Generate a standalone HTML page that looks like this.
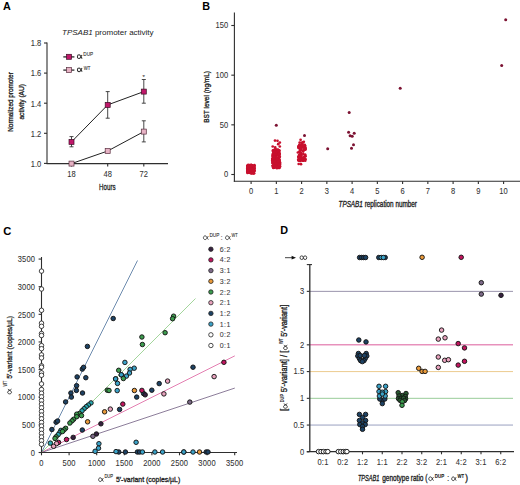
<!DOCTYPE html>
<html><head><meta charset="utf-8"><style>
html,body{margin:0;padding:0;background:#fff;}
svg{display:block;}
text{font-family:"Liberation Sans", sans-serif;}
</style></head><body>
<svg width="520" height="485" viewBox="0 0 520 485">
<rect width="520" height="485" fill="#fff"/>
<text x="2.90" y="9.60" font-size="10.8" text-anchor="start" fill="#000"  font-weight="bold">A</text>
<text x="62" y="35" font-size="8" fill="#222"><tspan font-style="italic">TPSAB1</tspan> promoter activity</text>
<line x1="47.00" y1="42.50" x2="47.00" y2="164.00" stroke="#2e2e2e" stroke-width="1.1" />
<line x1="44.00" y1="43.00" x2="47.00" y2="43.00" stroke="#2e2e2e" stroke-width="1.1" />
<text transform="translate(41.40,46.30) scale(0.92,1)" font-size="8.2" text-anchor="end" fill="#333" stroke="#333" stroke-width="0.07" letter-spacing="0.1">1.8</text>
<line x1="44.00" y1="73.10" x2="47.00" y2="73.10" stroke="#2e2e2e" stroke-width="1.1" />
<text transform="translate(41.40,76.40) scale(0.92,1)" font-size="8.2" text-anchor="end" fill="#333" stroke="#333" stroke-width="0.07" letter-spacing="0.1">1.6</text>
<line x1="44.00" y1="103.20" x2="47.00" y2="103.20" stroke="#2e2e2e" stroke-width="1.1" />
<text transform="translate(41.40,106.50) scale(0.92,1)" font-size="8.2" text-anchor="end" fill="#333" stroke="#333" stroke-width="0.07" letter-spacing="0.1">1.4</text>
<line x1="44.00" y1="133.30" x2="47.00" y2="133.30" stroke="#2e2e2e" stroke-width="1.1" />
<text transform="translate(41.40,136.60) scale(0.92,1)" font-size="8.2" text-anchor="end" fill="#333" stroke="#333" stroke-width="0.07" letter-spacing="0.1">1.2</text>
<line x1="44.00" y1="163.40" x2="47.00" y2="163.40" stroke="#2e2e2e" stroke-width="1.1" />
<text transform="translate(41.40,166.70) scale(0.92,1)" font-size="8.2" text-anchor="end" fill="#333" stroke="#333" stroke-width="0.07" letter-spacing="0.1">1.0</text>
<line x1="46.50" y1="163.60" x2="168.00" y2="163.60" stroke="#2e2e2e" stroke-width="1.1" />
<line x1="71.50" y1="163.60" x2="71.50" y2="166.50" stroke="#2e2e2e" stroke-width="1.1" />
<text transform="translate(71.50,176.70) scale(0.92,1)" font-size="8.2" text-anchor="middle" fill="#333" stroke="#333" stroke-width="0.07" letter-spacing="0.1">18</text>
<line x1="107.70" y1="163.60" x2="107.70" y2="166.50" stroke="#2e2e2e" stroke-width="1.1" />
<text transform="translate(107.70,176.70) scale(0.92,1)" font-size="8.2" text-anchor="middle" fill="#333" stroke="#333" stroke-width="0.07" letter-spacing="0.1">48</text>
<line x1="143.80" y1="163.60" x2="143.80" y2="166.50" stroke="#2e2e2e" stroke-width="1.1" />
<text transform="translate(143.80,176.70) scale(0.92,1)" font-size="8.2" text-anchor="middle" fill="#333" stroke="#333" stroke-width="0.07" letter-spacing="0.1">72</text>
<text x="99.1" y="190" font-size="9.4" fill="#222" stroke="#222" stroke-width="0.32" textLength="16.5" lengthAdjust="spacingAndGlyphs">Hours</text>
<text transform="translate(12.9,102) rotate(-90)" font-size="7.9" text-anchor="middle" fill="#222" stroke="#222" stroke-width="0.32" textLength="59.5" lengthAdjust="spacingAndGlyphs">Normalized promoter</text>
<text transform="translate(24.2,101.8) rotate(-90)" font-size="7.9" text-anchor="middle" fill="#222" stroke="#222" stroke-width="0.32" textLength="35.5" lengthAdjust="spacingAndGlyphs">activity (AU)</text>
<polyline points="71.5,141.9 107.7,104.9 143.8,91.6" fill="none" stroke="#222" stroke-width="1"/>
<line x1="71.50" y1="136.60" x2="71.50" y2="146.80" stroke="#333" stroke-width="0.9" />
<line x1="69.50" y1="136.60" x2="73.50" y2="136.60" stroke="#333" stroke-width="0.9" />
<line x1="69.50" y1="146.80" x2="73.50" y2="146.80" stroke="#333" stroke-width="0.9" />
<line x1="107.70" y1="91.60" x2="107.70" y2="118.20" stroke="#333" stroke-width="0.9" />
<line x1="105.70" y1="91.60" x2="109.70" y2="91.60" stroke="#333" stroke-width="0.9" />
<line x1="105.70" y1="118.20" x2="109.70" y2="118.20" stroke="#333" stroke-width="0.9" />
<line x1="143.80" y1="79.50" x2="143.80" y2="103.20" stroke="#333" stroke-width="0.9" />
<line x1="141.80" y1="79.50" x2="145.80" y2="79.50" stroke="#333" stroke-width="0.9" />
<line x1="141.80" y1="103.20" x2="145.80" y2="103.20" stroke="#333" stroke-width="0.9" />
<polyline points="71.5,163.6 107.7,151.0 143.8,131.6" fill="none" stroke="#222" stroke-width="1"/>
<line x1="143.80" y1="120.80" x2="143.80" y2="141.90" stroke="#333" stroke-width="0.9" />
<line x1="141.80" y1="120.80" x2="145.80" y2="120.80" stroke="#333" stroke-width="0.9" />
<line x1="141.80" y1="141.90" x2="145.80" y2="141.90" stroke="#333" stroke-width="0.9" />
<rect x="69.0" y="139.4" width="5" height="5" fill="#c0186a" stroke="#3c0e26" stroke-width="0.7"/>
<rect x="105.2" y="102.4" width="5" height="5" fill="#c0186a" stroke="#3c0e26" stroke-width="0.7"/>
<rect x="141.3" y="89.1" width="5" height="5" fill="#c0186a" stroke="#3c0e26" stroke-width="0.7"/>
<rect x="69.0" y="161.1" width="5" height="5" fill="#e6b2c4" stroke="#5a3040" stroke-width="0.7"/>
<rect x="105.2" y="148.5" width="5" height="5" fill="#e6b2c4" stroke="#5a3040" stroke-width="0.7"/>
<rect x="141.3" y="129.1" width="5" height="5" fill="#e6b2c4" stroke="#5a3040" stroke-width="0.7"/>
<text x="143.60" y="78.50" font-size="6" text-anchor="middle" fill="#333" stroke="#333" stroke-width="0.07" >*</text>
<line x1="63.30" y1="56.90" x2="74.40" y2="56.90" stroke="#2a2a2a" stroke-width="1.3" />
<rect x="66.5" y="54.3" width="5" height="5" fill="#c0186a" stroke="#3c0e26" stroke-width="0.7"/>
<line x1="63.30" y1="70.10" x2="74.40" y2="70.10" stroke="#2a2a2a" stroke-width="1.3" />
<rect x="66.5" y="67.6" width="5" height="5" fill="#e6b2c4" stroke="#5a3040" stroke-width="0.7"/>
<g transform="translate(77.30,58.60)"><path transform="translate(0,-3.80) scale(0.980,1.000)" d="M4.9,0.3 C3.9,1.3 3.3,3.8 1.9,3.8 C0.7,3.8 0.1,2.9 0.1,1.9 C0.1,0.9 0.8,0 1.9,0 C3.2,0 3.8,2.7 5.0,3.8" fill="none" stroke="#2a2a2a" stroke-width="1.01"/></g>
<text x="83.30" y="56.20" font-size="4.8" fill="#333" stroke="#333" stroke-width="0.1"  textLength="9.8" lengthAdjust="spacingAndGlyphs">DUP</text>
<g transform="translate(77.30,71.70)"><path transform="translate(0,-3.80) scale(0.980,1.000)" d="M4.9,0.3 C3.9,1.3 3.3,3.8 1.9,3.8 C0.7,3.8 0.1,2.9 0.1,1.9 C0.1,0.9 0.8,0 1.9,0 C3.2,0 3.8,2.7 5.0,3.8" fill="none" stroke="#2a2a2a" stroke-width="1.01"/></g>
<text x="83.80" y="69.70" font-size="4.8" fill="#333" stroke="#333" stroke-width="0.1"  textLength="6.6" lengthAdjust="spacingAndGlyphs">WT</text>
<text x="202.30" y="9.60" font-size="10.8" text-anchor="start" fill="#000"  font-weight="bold">B</text>
<line x1="234.40" y1="12.40" x2="234.40" y2="181.80" stroke="#2e2e2e" stroke-width="1.1" />
<line x1="231.30" y1="174.50" x2="234.40" y2="174.50" stroke="#2e2e2e" stroke-width="1.1" />
<text transform="translate(228.30,177.30) scale(0.92,1)" font-size="8.2" text-anchor="end" fill="#333" stroke="#333" stroke-width="0.07" letter-spacing="0.1">0</text>
<line x1="231.30" y1="124.84" x2="234.40" y2="124.84" stroke="#2e2e2e" stroke-width="1.1" />
<text transform="translate(228.30,127.64) scale(0.92,1)" font-size="8.2" text-anchor="end" fill="#333" stroke="#333" stroke-width="0.07" letter-spacing="0.1">50</text>
<line x1="231.30" y1="75.17" x2="234.40" y2="75.17" stroke="#2e2e2e" stroke-width="1.1" />
<text transform="translate(228.30,77.97) scale(0.92,1)" font-size="8.2" text-anchor="end" fill="#333" stroke="#333" stroke-width="0.07" letter-spacing="0.1">100</text>
<line x1="231.30" y1="25.50" x2="234.40" y2="25.50" stroke="#2e2e2e" stroke-width="1.1" />
<text transform="translate(228.30,28.30) scale(0.92,1)" font-size="8.2" text-anchor="end" fill="#333" stroke="#333" stroke-width="0.07" letter-spacing="0.1">150</text>
<line x1="233.80" y1="181.30" x2="520.00" y2="181.30" stroke="#2e2e2e" stroke-width="1.1" />
<line x1="251.10" y1="181.20" x2="251.10" y2="184.00" stroke="#2e2e2e" stroke-width="1.1" />
<text transform="translate(251.10,194.40) scale(0.92,1)" font-size="8.2" text-anchor="middle" fill="#333" stroke="#333" stroke-width="0.07" letter-spacing="0.1">0</text>
<line x1="276.35" y1="181.20" x2="276.35" y2="184.00" stroke="#2e2e2e" stroke-width="1.1" />
<text transform="translate(276.35,194.40) scale(0.92,1)" font-size="8.2" text-anchor="middle" fill="#333" stroke="#333" stroke-width="0.07" letter-spacing="0.1">1</text>
<line x1="301.60" y1="181.20" x2="301.60" y2="184.00" stroke="#2e2e2e" stroke-width="1.1" />
<text transform="translate(301.60,194.40) scale(0.92,1)" font-size="8.2" text-anchor="middle" fill="#333" stroke="#333" stroke-width="0.07" letter-spacing="0.1">2</text>
<line x1="326.85" y1="181.20" x2="326.85" y2="184.00" stroke="#2e2e2e" stroke-width="1.1" />
<text transform="translate(326.85,194.40) scale(0.92,1)" font-size="8.2" text-anchor="middle" fill="#333" stroke="#333" stroke-width="0.07" letter-spacing="0.1">3</text>
<line x1="352.10" y1="181.20" x2="352.10" y2="184.00" stroke="#2e2e2e" stroke-width="1.1" />
<text transform="translate(352.10,194.40) scale(0.92,1)" font-size="8.2" text-anchor="middle" fill="#333" stroke="#333" stroke-width="0.07" letter-spacing="0.1">4</text>
<line x1="377.35" y1="181.20" x2="377.35" y2="184.00" stroke="#2e2e2e" stroke-width="1.1" />
<text transform="translate(377.35,194.40) scale(0.92,1)" font-size="8.2" text-anchor="middle" fill="#333" stroke="#333" stroke-width="0.07" letter-spacing="0.1">5</text>
<line x1="402.60" y1="181.20" x2="402.60" y2="184.00" stroke="#2e2e2e" stroke-width="1.1" />
<text transform="translate(402.60,194.40) scale(0.92,1)" font-size="8.2" text-anchor="middle" fill="#333" stroke="#333" stroke-width="0.07" letter-spacing="0.1">6</text>
<line x1="427.85" y1="181.20" x2="427.85" y2="184.00" stroke="#2e2e2e" stroke-width="1.1" />
<text transform="translate(427.85,194.40) scale(0.92,1)" font-size="8.2" text-anchor="middle" fill="#333" stroke="#333" stroke-width="0.07" letter-spacing="0.1">7</text>
<line x1="453.10" y1="181.20" x2="453.10" y2="184.00" stroke="#2e2e2e" stroke-width="1.1" />
<text transform="translate(453.10,194.40) scale(0.92,1)" font-size="8.2" text-anchor="middle" fill="#333" stroke="#333" stroke-width="0.07" letter-spacing="0.1">8</text>
<line x1="478.35" y1="181.20" x2="478.35" y2="184.00" stroke="#2e2e2e" stroke-width="1.1" />
<text transform="translate(478.35,194.40) scale(0.92,1)" font-size="8.2" text-anchor="middle" fill="#333" stroke="#333" stroke-width="0.07" letter-spacing="0.1">9</text>
<line x1="503.60" y1="181.20" x2="503.60" y2="184.00" stroke="#2e2e2e" stroke-width="1.1" />
<text transform="translate(503.60,194.40) scale(0.92,1)" font-size="8.2" text-anchor="middle" fill="#333" stroke="#333" stroke-width="0.07" letter-spacing="0.1">10</text>
<text x="338.5" y="207.2" font-size="8.2" fill="#222" stroke="#222" stroke-width="0.32" textLength="78.5" lengthAdjust="spacingAndGlyphs"><tspan font-style="italic">TPSAB1</tspan> replication number</text>
<text transform="translate(208.6,96.9) rotate(-90)" font-size="8" text-anchor="middle" fill="#222" stroke="#222" stroke-width="0.32" textLength="51.8" lengthAdjust="spacingAndGlyphs">BST level (ng/mL)</text>
<circle cx="249.66" cy="166.10" r="1.35" fill="#c8102e"/>
<circle cx="252.05" cy="165.42" r="1.35" fill="#c8102e"/>
<circle cx="251.21" cy="167.94" r="1.35" fill="#c8102e"/>
<circle cx="247.72" cy="169.16" r="1.35" fill="#c8102e"/>
<circle cx="247.57" cy="168.53" r="1.35" fill="#c8102e"/>
<circle cx="247.81" cy="165.58" r="1.35" fill="#c8102e"/>
<circle cx="250.40" cy="171.91" r="1.35" fill="#c8102e"/>
<circle cx="248.20" cy="166.72" r="1.35" fill="#c8102e"/>
<circle cx="251.88" cy="172.95" r="1.35" fill="#c8102e"/>
<circle cx="251.51" cy="168.21" r="1.35" fill="#c8102e"/>
<circle cx="254.43" cy="165.20" r="1.35" fill="#c8102e"/>
<circle cx="253.57" cy="167.29" r="1.35" fill="#c8102e"/>
<circle cx="248.35" cy="165.81" r="1.35" fill="#c8102e"/>
<circle cx="249.55" cy="171.82" r="1.35" fill="#c8102e"/>
<circle cx="248.62" cy="169.80" r="1.35" fill="#c8102e"/>
<circle cx="251.96" cy="168.00" r="1.35" fill="#c8102e"/>
<circle cx="251.30" cy="165.34" r="1.35" fill="#c8102e"/>
<circle cx="247.74" cy="166.57" r="1.35" fill="#c8102e"/>
<circle cx="252.27" cy="168.48" r="1.35" fill="#c8102e"/>
<circle cx="249.59" cy="169.84" r="1.35" fill="#c8102e"/>
<circle cx="250.61" cy="167.38" r="1.35" fill="#c8102e"/>
<circle cx="253.10" cy="170.81" r="1.35" fill="#c8102e"/>
<circle cx="249.08" cy="169.74" r="1.35" fill="#c8102e"/>
<circle cx="251.13" cy="172.33" r="1.35" fill="#c8102e"/>
<circle cx="252.62" cy="167.28" r="1.35" fill="#c8102e"/>
<circle cx="254.46" cy="165.82" r="1.35" fill="#c8102e"/>
<circle cx="250.35" cy="171.31" r="1.35" fill="#c8102e"/>
<circle cx="248.41" cy="169.01" r="1.35" fill="#c8102e"/>
<circle cx="247.59" cy="170.55" r="1.35" fill="#c8102e"/>
<circle cx="252.88" cy="169.73" r="1.35" fill="#c8102e"/>
<circle cx="253.69" cy="167.50" r="1.35" fill="#c8102e"/>
<circle cx="252.38" cy="169.91" r="1.35" fill="#c8102e"/>
<circle cx="251.53" cy="168.72" r="1.35" fill="#c8102e"/>
<circle cx="253.43" cy="172.92" r="1.35" fill="#c8102e"/>
<circle cx="250.76" cy="170.51" r="1.35" fill="#c8102e"/>
<circle cx="247.74" cy="170.83" r="1.35" fill="#c8102e"/>
<circle cx="252.02" cy="173.34" r="1.35" fill="#c8102e"/>
<circle cx="253.30" cy="167.25" r="1.35" fill="#c8102e"/>
<circle cx="250.12" cy="170.55" r="1.35" fill="#c8102e"/>
<circle cx="247.46" cy="168.77" r="1.35" fill="#c8102e"/>
<circle cx="248.53" cy="165.81" r="1.35" fill="#c8102e"/>
<circle cx="247.73" cy="171.41" r="1.35" fill="#c8102e"/>
<circle cx="248.24" cy="166.93" r="1.35" fill="#c8102e"/>
<circle cx="250.15" cy="172.29" r="1.35" fill="#c8102e"/>
<circle cx="247.89" cy="168.66" r="1.35" fill="#c8102e"/>
<circle cx="251.31" cy="172.40" r="1.35" fill="#c8102e"/>
<circle cx="253.28" cy="172.23" r="1.35" fill="#c8102e"/>
<circle cx="249.33" cy="168.37" r="1.35" fill="#c8102e"/>
<circle cx="249.92" cy="172.40" r="1.35" fill="#c8102e"/>
<circle cx="254.29" cy="166.10" r="1.35" fill="#c8102e"/>
<circle cx="248.59" cy="166.79" r="1.35" fill="#c8102e"/>
<circle cx="249.00" cy="168.97" r="1.35" fill="#c8102e"/>
<circle cx="251.60" cy="167.06" r="1.35" fill="#c8102e"/>
<circle cx="247.33" cy="168.40" r="1.35" fill="#c8102e"/>
<circle cx="250.00" cy="169.67" r="1.35" fill="#c8102e"/>
<circle cx="254.26" cy="170.74" r="1.35" fill="#c8102e"/>
<circle cx="251.06" cy="170.11" r="1.35" fill="#c8102e"/>
<circle cx="252.24" cy="165.26" r="1.35" fill="#c8102e"/>
<circle cx="253.87" cy="171.51" r="1.35" fill="#c8102e"/>
<circle cx="253.68" cy="171.66" r="1.35" fill="#c8102e"/>
<circle cx="250.16" cy="168.23" r="1.35" fill="#c8102e"/>
<circle cx="248.06" cy="170.25" r="1.35" fill="#c8102e"/>
<circle cx="247.75" cy="165.38" r="1.35" fill="#c8102e"/>
<circle cx="248.82" cy="166.20" r="1.35" fill="#c8102e"/>
<circle cx="249.78" cy="165.25" r="1.35" fill="#c8102e"/>
<circle cx="247.30" cy="166.10" r="1.35" fill="#c8102e"/>
<circle cx="248.04" cy="167.93" r="1.35" fill="#c8102e"/>
<circle cx="247.49" cy="172.32" r="1.35" fill="#c8102e"/>
<circle cx="251.78" cy="166.08" r="1.35" fill="#c8102e"/>
<circle cx="249.14" cy="167.79" r="1.35" fill="#c8102e"/>
<circle cx="249.96" cy="165.86" r="1.35" fill="#c8102e"/>
<circle cx="253.50" cy="173.34" r="1.35" fill="#c8102e"/>
<circle cx="250.70" cy="168.96" r="1.35" fill="#c8102e"/>
<circle cx="247.93" cy="165.68" r="1.35" fill="#c8102e"/>
<circle cx="249.80" cy="167.08" r="1.35" fill="#c8102e"/>
<circle cx="253.35" cy="166.19" r="1.35" fill="#c8102e"/>
<circle cx="247.47" cy="172.98" r="1.35" fill="#c8102e"/>
<circle cx="251.16" cy="166.06" r="1.35" fill="#c8102e"/>
<circle cx="251.27" cy="165.03" r="1.35" fill="#c8102e"/>
<circle cx="251.16" cy="173.22" r="1.35" fill="#c8102e"/>
<circle cx="253.60" cy="170.79" r="1.35" fill="#c8102e"/>
<circle cx="249.21" cy="167.95" r="1.35" fill="#c8102e"/>
<circle cx="248.52" cy="171.44" r="1.35" fill="#c8102e"/>
<circle cx="251.19" cy="171.50" r="1.35" fill="#c8102e"/>
<circle cx="249.71" cy="166.72" r="1.35" fill="#c8102e"/>
<circle cx="253.22" cy="173.27" r="1.35" fill="#c8102e"/>
<circle cx="253.52" cy="171.73" r="1.35" fill="#c8102e"/>
<circle cx="253.27" cy="171.16" r="1.35" fill="#c8102e"/>
<circle cx="248.96" cy="169.25" r="1.35" fill="#c8102e"/>
<circle cx="249.90" cy="165.05" r="1.35" fill="#c8102e"/>
<circle cx="247.50" cy="167.20" r="1.35" fill="#c8102e"/>
<circle cx="249.19" cy="170.76" r="1.35" fill="#c8102e"/>
<circle cx="254.28" cy="168.65" r="1.35" fill="#c8102e"/>
<circle cx="254.14" cy="173.30" r="1.35" fill="#c8102e"/>
<circle cx="254.27" cy="167.94" r="1.35" fill="#c8102e"/>
<circle cx="248.91" cy="166.75" r="1.35" fill="#c8102e"/>
<circle cx="248.74" cy="166.56" r="1.35" fill="#c8102e"/>
<circle cx="251.86" cy="172.54" r="1.35" fill="#c8102e"/>
<circle cx="253.44" cy="168.92" r="1.35" fill="#c8102e"/>
<circle cx="252.07" cy="171.68" r="1.35" fill="#c8102e"/>
<circle cx="247.92" cy="170.48" r="1.35" fill="#c8102e"/>
<circle cx="253.94" cy="171.53" r="1.35" fill="#c8102e"/>
<circle cx="252.78" cy="168.91" r="1.35" fill="#c8102e"/>
<circle cx="248.60" cy="171.59" r="1.35" fill="#c8102e"/>
<circle cx="249.73" cy="171.69" r="1.35" fill="#c8102e"/>
<circle cx="254.39" cy="168.20" r="1.35" fill="#c8102e"/>
<circle cx="250.23" cy="172.94" r="1.35" fill="#c8102e"/>
<circle cx="252.59" cy="166.26" r="1.35" fill="#c8102e"/>
<circle cx="248.23" cy="166.10" r="1.35" fill="#c8102e"/>
<circle cx="253.91" cy="171.74" r="1.35" fill="#c8102e"/>
<circle cx="248.37" cy="171.91" r="1.35" fill="#c8102e"/>
<circle cx="254.46" cy="170.45" r="1.35" fill="#c8102e"/>
<circle cx="249.86" cy="169.52" r="1.35" fill="#c8102e"/>
<circle cx="248.26" cy="164.92" r="1.35" fill="#c8102e"/>
<circle cx="254.39" cy="170.39" r="1.35" fill="#c8102e"/>
<circle cx="251.14" cy="172.83" r="1.35" fill="#c8102e"/>
<circle cx="250.47" cy="172.30" r="1.35" fill="#c8102e"/>
<circle cx="253.33" cy="166.61" r="1.35" fill="#c8102e"/>
<circle cx="249.14" cy="167.32" r="1.35" fill="#c8102e"/>
<circle cx="249.06" cy="169.84" r="1.35" fill="#c8102e"/>
<circle cx="249.19" cy="168.40" r="1.35" fill="#c8102e"/>
<circle cx="248.26" cy="172.63" r="1.35" fill="#c8102e"/>
<circle cx="249.88" cy="168.74" r="1.35" fill="#c8102e"/>
<circle cx="251.56" cy="172.58" r="1.35" fill="#c8102e"/>
<circle cx="250.37" cy="172.69" r="1.35" fill="#c8102e"/>
<circle cx="250.96" cy="169.37" r="1.35" fill="#c8102e"/>
<circle cx="251.12" cy="164.96" r="1.35" fill="#c8102e"/>
<circle cx="250.51" cy="166.37" r="1.35" fill="#c8102e"/>
<circle cx="247.33" cy="171.67" r="1.35" fill="#c8102e"/>
<circle cx="248.56" cy="168.87" r="1.35" fill="#c8102e"/>
<circle cx="252.59" cy="169.59" r="1.35" fill="#c8102e"/>
<circle cx="249.68" cy="169.26" r="1.35" fill="#c8102e"/>
<circle cx="251.35" cy="171.54" r="1.35" fill="#c8102e"/>
<circle cx="248.07" cy="169.62" r="1.35" fill="#c8102e"/>
<circle cx="249.11" cy="167.18" r="1.35" fill="#c8102e"/>
<circle cx="252.94" cy="169.17" r="1.35" fill="#c8102e"/>
<circle cx="251.40" cy="171.34" r="1.35" fill="#c8102e"/>
<circle cx="253.96" cy="168.61" r="1.35" fill="#c8102e"/>
<circle cx="251.77" cy="169.15" r="1.35" fill="#c8102e"/>
<circle cx="251.04" cy="170.76" r="1.35" fill="#c8102e"/>
<circle cx="250.60" cy="169.39" r="1.35" fill="#c8102e"/>
<circle cx="250.79" cy="172.90" r="1.35" fill="#c8102e"/>
<circle cx="252.40" cy="172.34" r="1.35" fill="#c8102e"/>
<circle cx="254.18" cy="167.03" r="1.35" fill="#c8102e"/>
<circle cx="251.38" cy="172.91" r="1.35" fill="#c8102e"/>
<circle cx="253.43" cy="165.98" r="1.35" fill="#c8102e"/>
<circle cx="248.19" cy="168.60" r="1.35" fill="#c8102e"/>
<circle cx="247.83" cy="166.87" r="1.35" fill="#c8102e"/>
<circle cx="247.83" cy="170.56" r="1.35" fill="#c8102e"/>
<circle cx="253.02" cy="172.51" r="1.35" fill="#c8102e"/>
<circle cx="277.67" cy="152.39" r="1.35" fill="#c8102e"/>
<circle cx="273.42" cy="161.85" r="1.35" fill="#c8102e"/>
<circle cx="279.85" cy="166.01" r="1.35" fill="#c8102e"/>
<circle cx="279.28" cy="153.61" r="1.35" fill="#c8102e"/>
<circle cx="276.10" cy="156.95" r="1.35" fill="#c8102e"/>
<circle cx="278.79" cy="168.01" r="1.35" fill="#c8102e"/>
<circle cx="275.73" cy="152.52" r="1.35" fill="#c8102e"/>
<circle cx="274.95" cy="159.14" r="1.35" fill="#c8102e"/>
<circle cx="274.97" cy="153.16" r="1.35" fill="#c8102e"/>
<circle cx="272.45" cy="163.00" r="1.35" fill="#c8102e"/>
<circle cx="275.74" cy="159.86" r="1.35" fill="#c8102e"/>
<circle cx="275.05" cy="149.84" r="1.35" fill="#c8102e"/>
<circle cx="276.30" cy="161.17" r="1.35" fill="#c8102e"/>
<circle cx="279.50" cy="150.70" r="1.35" fill="#c8102e"/>
<circle cx="279.88" cy="164.24" r="1.35" fill="#c8102e"/>
<circle cx="274.61" cy="151.46" r="1.35" fill="#c8102e"/>
<circle cx="278.10" cy="150.24" r="1.35" fill="#c8102e"/>
<circle cx="273.68" cy="154.56" r="1.35" fill="#c8102e"/>
<circle cx="279.41" cy="157.40" r="1.35" fill="#c8102e"/>
<circle cx="274.32" cy="164.81" r="1.35" fill="#c8102e"/>
<circle cx="279.05" cy="152.29" r="1.35" fill="#c8102e"/>
<circle cx="277.76" cy="160.17" r="1.35" fill="#c8102e"/>
<circle cx="273.19" cy="151.17" r="1.35" fill="#c8102e"/>
<circle cx="275.62" cy="162.37" r="1.35" fill="#c8102e"/>
<circle cx="279.18" cy="150.85" r="1.35" fill="#c8102e"/>
<circle cx="278.55" cy="161.36" r="1.35" fill="#c8102e"/>
<circle cx="278.62" cy="151.07" r="1.35" fill="#c8102e"/>
<circle cx="278.67" cy="150.75" r="1.35" fill="#c8102e"/>
<circle cx="274.95" cy="157.99" r="1.35" fill="#c8102e"/>
<circle cx="279.53" cy="159.84" r="1.35" fill="#c8102e"/>
<circle cx="273.68" cy="154.51" r="1.35" fill="#c8102e"/>
<circle cx="274.16" cy="159.35" r="1.35" fill="#c8102e"/>
<circle cx="273.90" cy="151.55" r="1.35" fill="#c8102e"/>
<circle cx="274.17" cy="150.44" r="1.35" fill="#c8102e"/>
<circle cx="274.68" cy="155.33" r="1.35" fill="#c8102e"/>
<circle cx="274.56" cy="163.70" r="1.35" fill="#c8102e"/>
<circle cx="273.69" cy="158.85" r="1.35" fill="#c8102e"/>
<circle cx="272.44" cy="155.99" r="1.35" fill="#c8102e"/>
<circle cx="272.90" cy="154.18" r="1.35" fill="#c8102e"/>
<circle cx="276.60" cy="163.21" r="1.35" fill="#c8102e"/>
<circle cx="276.03" cy="153.04" r="1.35" fill="#c8102e"/>
<circle cx="273.13" cy="166.98" r="1.35" fill="#c8102e"/>
<circle cx="275.67" cy="164.81" r="1.35" fill="#c8102e"/>
<circle cx="278.81" cy="158.76" r="1.35" fill="#c8102e"/>
<circle cx="276.25" cy="156.85" r="1.35" fill="#c8102e"/>
<circle cx="279.96" cy="162.36" r="1.35" fill="#c8102e"/>
<circle cx="278.79" cy="155.91" r="1.35" fill="#c8102e"/>
<circle cx="277.26" cy="162.72" r="1.35" fill="#c8102e"/>
<circle cx="275.01" cy="157.07" r="1.35" fill="#c8102e"/>
<circle cx="273.68" cy="150.52" r="1.35" fill="#c8102e"/>
<circle cx="277.84" cy="150.82" r="1.35" fill="#c8102e"/>
<circle cx="273.91" cy="154.28" r="1.35" fill="#c8102e"/>
<circle cx="278.52" cy="151.08" r="1.35" fill="#c8102e"/>
<circle cx="277.53" cy="165.78" r="1.35" fill="#c8102e"/>
<circle cx="274.45" cy="154.77" r="1.35" fill="#c8102e"/>
<circle cx="275.92" cy="154.98" r="1.35" fill="#c8102e"/>
<circle cx="275.83" cy="152.45" r="1.35" fill="#c8102e"/>
<circle cx="279.34" cy="154.42" r="1.35" fill="#c8102e"/>
<circle cx="276.57" cy="167.69" r="1.35" fill="#c8102e"/>
<circle cx="279.37" cy="154.07" r="1.35" fill="#c8102e"/>
<circle cx="275.08" cy="155.29" r="1.35" fill="#c8102e"/>
<circle cx="275.40" cy="149.52" r="1.35" fill="#c8102e"/>
<circle cx="276.22" cy="158.38" r="1.35" fill="#c8102e"/>
<circle cx="276.23" cy="153.26" r="1.35" fill="#c8102e"/>
<circle cx="274.60" cy="149.59" r="1.35" fill="#c8102e"/>
<circle cx="275.52" cy="151.18" r="1.35" fill="#c8102e"/>
<circle cx="272.95" cy="150.28" r="1.35" fill="#c8102e"/>
<circle cx="274.12" cy="155.19" r="1.35" fill="#c8102e"/>
<circle cx="276.43" cy="160.45" r="1.35" fill="#c8102e"/>
<circle cx="277.43" cy="163.54" r="1.35" fill="#c8102e"/>
<circle cx="279.16" cy="162.89" r="1.35" fill="#c8102e"/>
<circle cx="274.84" cy="156.78" r="1.35" fill="#c8102e"/>
<circle cx="273.47" cy="167.91" r="1.35" fill="#c8102e"/>
<circle cx="277.32" cy="163.04" r="1.35" fill="#c8102e"/>
<circle cx="278.48" cy="150.32" r="1.35" fill="#c8102e"/>
<circle cx="277.19" cy="166.18" r="1.35" fill="#c8102e"/>
<circle cx="278.64" cy="163.22" r="1.35" fill="#c8102e"/>
<circle cx="276.36" cy="152.11" r="1.35" fill="#c8102e"/>
<circle cx="278.81" cy="158.93" r="1.35" fill="#c8102e"/>
<circle cx="278.75" cy="164.55" r="1.35" fill="#c8102e"/>
<circle cx="279.26" cy="160.42" r="1.35" fill="#c8102e"/>
<circle cx="277.71" cy="162.27" r="1.35" fill="#c8102e"/>
<circle cx="273.01" cy="153.80" r="1.35" fill="#c8102e"/>
<circle cx="275.25" cy="151.99" r="1.35" fill="#c8102e"/>
<circle cx="278.48" cy="151.46" r="1.35" fill="#c8102e"/>
<circle cx="277.20" cy="159.94" r="1.35" fill="#c8102e"/>
<circle cx="277.61" cy="161.21" r="1.35" fill="#c8102e"/>
<circle cx="272.33" cy="158.65" r="1.35" fill="#c8102e"/>
<circle cx="278.14" cy="164.42" r="1.35" fill="#c8102e"/>
<circle cx="276.47" cy="158.91" r="1.35" fill="#c8102e"/>
<circle cx="272.82" cy="161.83" r="1.35" fill="#c8102e"/>
<circle cx="274.27" cy="163.28" r="1.35" fill="#c8102e"/>
<circle cx="274.61" cy="150.89" r="1.35" fill="#c8102e"/>
<circle cx="273.90" cy="163.14" r="1.35" fill="#c8102e"/>
<circle cx="279.91" cy="163.33" r="1.35" fill="#c8102e"/>
<circle cx="275.28" cy="158.74" r="1.35" fill="#c8102e"/>
<circle cx="277.63" cy="158.46" r="1.35" fill="#c8102e"/>
<circle cx="277.11" cy="163.84" r="1.35" fill="#c8102e"/>
<circle cx="272.90" cy="161.52" r="1.35" fill="#c8102e"/>
<circle cx="274.53" cy="152.26" r="1.35" fill="#c8102e"/>
<circle cx="274.67" cy="163.40" r="1.35" fill="#c8102e"/>
<circle cx="272.40" cy="160.12" r="1.35" fill="#c8102e"/>
<circle cx="274.63" cy="150.63" r="1.35" fill="#c8102e"/>
<circle cx="277.70" cy="162.07" r="1.35" fill="#c8102e"/>
<circle cx="274.57" cy="162.14" r="1.35" fill="#c8102e"/>
<circle cx="275.92" cy="159.16" r="1.35" fill="#c8102e"/>
<circle cx="273.22" cy="158.22" r="1.35" fill="#c8102e"/>
<circle cx="273.85" cy="166.21" r="1.35" fill="#c8102e"/>
<circle cx="279.60" cy="167.79" r="1.35" fill="#c8102e"/>
<circle cx="275.92" cy="149.83" r="1.35" fill="#c8102e"/>
<circle cx="279.85" cy="164.83" r="1.35" fill="#c8102e"/>
<circle cx="274.40" cy="157.90" r="1.35" fill="#c8102e"/>
<circle cx="279.23" cy="153.42" r="1.35" fill="#c8102e"/>
<circle cx="276.75" cy="153.44" r="1.35" fill="#c8102e"/>
<circle cx="276.36" cy="152.15" r="1.35" fill="#c8102e"/>
<circle cx="273.33" cy="167.32" r="1.35" fill="#c8102e"/>
<circle cx="276.27" cy="164.84" r="1.35" fill="#c8102e"/>
<circle cx="277.79" cy="166.08" r="1.35" fill="#c8102e"/>
<circle cx="278.90" cy="153.83" r="1.35" fill="#c8102e"/>
<circle cx="272.49" cy="158.59" r="1.35" fill="#c8102e"/>
<circle cx="276.14" cy="149.57" r="1.35" fill="#c8102e"/>
<circle cx="274.66" cy="157.93" r="1.35" fill="#c8102e"/>
<circle cx="275.14" cy="152.13" r="1.35" fill="#c8102e"/>
<circle cx="278.85" cy="155.41" r="1.35" fill="#c8102e"/>
<circle cx="277.90" cy="149.53" r="1.35" fill="#c8102e"/>
<circle cx="273.24" cy="165.19" r="1.35" fill="#c8102e"/>
<circle cx="277.86" cy="166.82" r="1.35" fill="#c8102e"/>
<circle cx="274.56" cy="166.36" r="1.35" fill="#c8102e"/>
<circle cx="275.36" cy="156.46" r="1.35" fill="#c8102e"/>
<circle cx="276.90" cy="168.18" r="1.35" fill="#c8102e"/>
<circle cx="275.64" cy="156.25" r="1.35" fill="#c8102e"/>
<circle cx="273.13" cy="154.65" r="1.35" fill="#c8102e"/>
<circle cx="278.48" cy="151.40" r="1.35" fill="#c8102e"/>
<circle cx="279.16" cy="154.84" r="1.35" fill="#c8102e"/>
<circle cx="274.61" cy="154.16" r="1.35" fill="#c8102e"/>
<circle cx="273.78" cy="159.06" r="1.35" fill="#c8102e"/>
<circle cx="279.76" cy="156.48" r="1.35" fill="#c8102e"/>
<circle cx="278.63" cy="166.04" r="1.35" fill="#c8102e"/>
<circle cx="279.42" cy="161.30" r="1.35" fill="#c8102e"/>
<circle cx="276.58" cy="167.09" r="1.35" fill="#c8102e"/>
<circle cx="272.69" cy="162.96" r="1.35" fill="#c8102e"/>
<circle cx="275.82" cy="163.19" r="1.35" fill="#c8102e"/>
<circle cx="277.33" cy="163.57" r="1.35" fill="#c8102e"/>
<circle cx="273.13" cy="154.85" r="1.35" fill="#c8102e"/>
<circle cx="273.29" cy="166.83" r="1.35" fill="#c8102e"/>
<circle cx="274.98" cy="158.33" r="1.35" fill="#c8102e"/>
<circle cx="278.06" cy="155.07" r="1.35" fill="#c8102e"/>
<circle cx="274.33" cy="167.76" r="1.35" fill="#c8102e"/>
<circle cx="274.65" cy="161.77" r="1.35" fill="#c8102e"/>
<circle cx="275.38" cy="159.92" r="1.35" fill="#c8102e"/>
<circle cx="273.90" cy="152.63" r="1.35" fill="#c8102e"/>
<circle cx="278.96" cy="153.39" r="1.35" fill="#c8102e"/>
<circle cx="274.02" cy="158.80" r="1.35" fill="#c8102e"/>
<circle cx="280.07" cy="166.45" r="1.35" fill="#c8102e"/>
<circle cx="273.39" cy="157.91" r="1.35" fill="#c8102e"/>
<circle cx="273.42" cy="153.10" r="1.35" fill="#c8102e"/>
<circle cx="273.01" cy="155.89" r="1.35" fill="#c8102e"/>
<circle cx="274.56" cy="153.97" r="1.35" fill="#c8102e"/>
<circle cx="279.22" cy="160.15" r="1.35" fill="#c8102e"/>
<circle cx="275.52" cy="163.52" r="1.35" fill="#c8102e"/>
<circle cx="276.39" cy="157.24" r="1.35" fill="#c8102e"/>
<circle cx="274.94" cy="156.55" r="1.35" fill="#c8102e"/>
<circle cx="274.69" cy="150.66" r="1.35" fill="#c8102e"/>
<circle cx="273.28" cy="167.60" r="1.35" fill="#c8102e"/>
<circle cx="277.21" cy="158.91" r="1.35" fill="#c8102e"/>
<circle cx="273.98" cy="165.64" r="1.35" fill="#c8102e"/>
<circle cx="274.49" cy="154.57" r="1.35" fill="#c8102e"/>
<circle cx="275.78" cy="156.98" r="1.35" fill="#c8102e"/>
<circle cx="278.92" cy="167.34" r="1.35" fill="#c8102e"/>
<circle cx="272.47" cy="165.82" r="1.35" fill="#c8102e"/>
<circle cx="277.62" cy="150.10" r="1.35" fill="#c8102e"/>
<circle cx="275.99" cy="166.25" r="1.35" fill="#c8102e"/>
<circle cx="272.30" cy="160.48" r="1.35" fill="#c8102e"/>
<circle cx="279.53" cy="156.82" r="1.35" fill="#c8102e"/>
<circle cx="278.97" cy="164.94" r="1.35" fill="#c8102e"/>
<circle cx="274.24" cy="167.68" r="1.35" fill="#c8102e"/>
<circle cx="273.85" cy="151.54" r="1.35" fill="#c8102e"/>
<circle cx="277.62" cy="159.27" r="1.35" fill="#c8102e"/>
<circle cx="277.93" cy="167.11" r="1.35" fill="#c8102e"/>
<circle cx="278.27" cy="161.61" r="1.35" fill="#c8102e"/>
<circle cx="276.60" cy="158.05" r="1.35" fill="#c8102e"/>
<circle cx="278.12" cy="150.24" r="1.35" fill="#c8102e"/>
<circle cx="279.06" cy="153.85" r="1.35" fill="#c8102e"/>
<circle cx="274.67" cy="161.57" r="1.35" fill="#c8102e"/>
<circle cx="274.51" cy="151.89" r="1.35" fill="#c8102e"/>
<circle cx="277.75" cy="161.40" r="1.35" fill="#c8102e"/>
<circle cx="273.28" cy="151.60" r="1.35" fill="#c8102e"/>
<circle cx="276.85" cy="159.31" r="1.35" fill="#c8102e"/>
<circle cx="274.04" cy="156.76" r="1.35" fill="#c8102e"/>
<circle cx="272.38" cy="160.74" r="1.35" fill="#c8102e"/>
<circle cx="275.00" cy="140.60" r="1.35" fill="#c8102e"/>
<circle cx="277.50" cy="140.80" r="1.35" fill="#c8102e"/>
<circle cx="279.80" cy="142.60" r="1.35" fill="#c8102e"/>
<circle cx="278.20" cy="144.20" r="1.35" fill="#c8102e"/>
<circle cx="279.80" cy="146.50" r="1.35" fill="#c8102e"/>
<circle cx="272.70" cy="146.50" r="1.35" fill="#c8102e"/>
<circle cx="275.20" cy="147.40" r="1.35" fill="#c8102e"/>
<circle cx="301.61" cy="147.74" r="1.35" fill="#c8102e"/>
<circle cx="302.97" cy="160.69" r="1.35" fill="#c8102e"/>
<circle cx="301.72" cy="159.21" r="1.35" fill="#c8102e"/>
<circle cx="300.03" cy="146.42" r="1.35" fill="#c8102e"/>
<circle cx="303.41" cy="160.72" r="1.35" fill="#c8102e"/>
<circle cx="298.36" cy="147.86" r="1.35" fill="#c8102e"/>
<circle cx="303.19" cy="151.62" r="1.35" fill="#c8102e"/>
<circle cx="300.10" cy="150.07" r="1.35" fill="#c8102e"/>
<circle cx="305.05" cy="154.95" r="1.35" fill="#c8102e"/>
<circle cx="298.45" cy="146.27" r="1.35" fill="#c8102e"/>
<circle cx="301.31" cy="148.46" r="1.35" fill="#c8102e"/>
<circle cx="299.67" cy="155.25" r="1.35" fill="#c8102e"/>
<circle cx="303.67" cy="157.50" r="1.35" fill="#c8102e"/>
<circle cx="299.72" cy="151.75" r="1.35" fill="#c8102e"/>
<circle cx="300.51" cy="160.91" r="1.35" fill="#c8102e"/>
<circle cx="299.91" cy="157.95" r="1.35" fill="#c8102e"/>
<circle cx="303.83" cy="146.16" r="1.35" fill="#c8102e"/>
<circle cx="305.24" cy="147.61" r="1.35" fill="#c8102e"/>
<circle cx="299.59" cy="151.57" r="1.35" fill="#c8102e"/>
<circle cx="301.29" cy="146.20" r="1.35" fill="#c8102e"/>
<circle cx="305.22" cy="154.91" r="1.35" fill="#c8102e"/>
<circle cx="301.66" cy="144.68" r="1.35" fill="#c8102e"/>
<circle cx="305.14" cy="146.00" r="1.35" fill="#c8102e"/>
<circle cx="299.61" cy="144.60" r="1.35" fill="#c8102e"/>
<circle cx="301.66" cy="142.98" r="1.35" fill="#c8102e"/>
<circle cx="304.74" cy="159.49" r="1.35" fill="#c8102e"/>
<circle cx="305.58" cy="156.23" r="1.35" fill="#c8102e"/>
<circle cx="300.64" cy="160.15" r="1.35" fill="#c8102e"/>
<circle cx="304.92" cy="145.45" r="1.35" fill="#c8102e"/>
<circle cx="298.44" cy="156.50" r="1.35" fill="#c8102e"/>
<circle cx="301.00" cy="154.89" r="1.35" fill="#c8102e"/>
<circle cx="300.65" cy="149.17" r="1.35" fill="#c8102e"/>
<circle cx="299.32" cy="145.13" r="1.35" fill="#c8102e"/>
<circle cx="300.80" cy="147.31" r="1.35" fill="#c8102e"/>
<circle cx="299.12" cy="160.62" r="1.35" fill="#c8102e"/>
<circle cx="299.73" cy="160.80" r="1.35" fill="#c8102e"/>
<circle cx="304.28" cy="148.83" r="1.35" fill="#c8102e"/>
<circle cx="301.40" cy="157.99" r="1.35" fill="#c8102e"/>
<circle cx="302.14" cy="142.77" r="1.35" fill="#c8102e"/>
<circle cx="305.00" cy="149.14" r="1.35" fill="#c8102e"/>
<circle cx="301.49" cy="145.60" r="1.35" fill="#c8102e"/>
<circle cx="298.42" cy="159.47" r="1.35" fill="#c8102e"/>
<circle cx="304.21" cy="149.89" r="1.35" fill="#c8102e"/>
<circle cx="298.50" cy="156.90" r="1.35" fill="#c8102e"/>
<circle cx="299.68" cy="142.49" r="1.35" fill="#c8102e"/>
<circle cx="300.10" cy="159.93" r="1.35" fill="#c8102e"/>
<circle cx="304.85" cy="156.52" r="1.35" fill="#c8102e"/>
<circle cx="300.22" cy="148.48" r="1.35" fill="#c8102e"/>
<circle cx="302.77" cy="160.67" r="1.35" fill="#c8102e"/>
<circle cx="303.50" cy="146.96" r="1.35" fill="#c8102e"/>
<circle cx="300.24" cy="148.03" r="1.35" fill="#c8102e"/>
<circle cx="303.83" cy="141.87" r="1.35" fill="#c8102e"/>
<circle cx="302.89" cy="159.85" r="1.35" fill="#c8102e"/>
<circle cx="298.38" cy="160.38" r="1.35" fill="#c8102e"/>
<circle cx="301.72" cy="146.41" r="1.35" fill="#c8102e"/>
<circle cx="305.26" cy="160.65" r="1.35" fill="#c8102e"/>
<circle cx="300.06" cy="149.41" r="1.35" fill="#c8102e"/>
<circle cx="301.85" cy="150.27" r="1.35" fill="#c8102e"/>
<circle cx="299.55" cy="160.08" r="1.35" fill="#c8102e"/>
<circle cx="303.66" cy="157.61" r="1.35" fill="#c8102e"/>
<circle cx="303.92" cy="158.01" r="1.35" fill="#c8102e"/>
<circle cx="300.63" cy="153.76" r="1.35" fill="#c8102e"/>
<circle cx="300.88" cy="148.10" r="1.35" fill="#c8102e"/>
<circle cx="298.78" cy="157.21" r="1.35" fill="#c8102e"/>
<circle cx="303.82" cy="145.69" r="1.35" fill="#c8102e"/>
<circle cx="298.68" cy="146.67" r="1.35" fill="#c8102e"/>
<circle cx="302.62" cy="142.47" r="1.35" fill="#c8102e"/>
<circle cx="305.45" cy="148.22" r="1.35" fill="#c8102e"/>
<circle cx="305.51" cy="159.20" r="1.35" fill="#c8102e"/>
<circle cx="298.82" cy="147.02" r="1.35" fill="#c8102e"/>
<circle cx="302.29" cy="143.70" r="1.35" fill="#c8102e"/>
<circle cx="301.51" cy="155.78" r="1.35" fill="#c8102e"/>
<circle cx="301.28" cy="146.41" r="1.35" fill="#c8102e"/>
<circle cx="303.19" cy="154.02" r="1.35" fill="#c8102e"/>
<circle cx="304.47" cy="156.54" r="1.35" fill="#c8102e"/>
<circle cx="299.10" cy="154.89" r="1.35" fill="#c8102e"/>
<circle cx="300.37" cy="158.37" r="1.35" fill="#c8102e"/>
<circle cx="300.96" cy="152.97" r="1.35" fill="#c8102e"/>
<circle cx="299.67" cy="156.34" r="1.35" fill="#c8102e"/>
<circle cx="300.02" cy="146.67" r="1.35" fill="#c8102e"/>
<circle cx="304.61" cy="144.82" r="1.35" fill="#c8102e"/>
<circle cx="300.61" cy="153.19" r="1.35" fill="#c8102e"/>
<circle cx="305.54" cy="149.60" r="1.35" fill="#c8102e"/>
<circle cx="299.91" cy="151.79" r="1.35" fill="#c8102e"/>
<circle cx="303.03" cy="157.73" r="1.35" fill="#c8102e"/>
<circle cx="300.60" cy="139.80" r="1.35" fill="#c8102e"/>
<circle cx="298.20" cy="159.80" r="1.35" fill="#c8102e"/>
<circle cx="298.70" cy="164.00" r="1.35" fill="#c8102e"/>
<circle cx="301.00" cy="164.20" r="1.35" fill="#c8102e"/>
<circle cx="297.90" cy="152.50" r="1.35" fill="#c8102e"/>
<circle cx="276.30" cy="125.20" r="1.5" fill="#7c1232"/>
<circle cx="304.50" cy="135.50" r="1.5" fill="#7c1232"/>
<circle cx="327.70" cy="148.80" r="1.5" fill="#7c1232"/>
<circle cx="349.20" cy="112.50" r="1.5" fill="#7c1232"/>
<circle cx="348.60" cy="132.20" r="1.5" fill="#7c1232"/>
<circle cx="354.20" cy="133.30" r="1.5" fill="#7c1232"/>
<circle cx="350.10" cy="135.80" r="1.5" fill="#7c1232"/>
<circle cx="352.20" cy="136.30" r="1.5" fill="#7c1232"/>
<circle cx="353.50" cy="144.70" r="1.5" fill="#7c1232"/>
<circle cx="351.50" cy="148.30" r="1.5" fill="#7c1232"/>
<circle cx="400.20" cy="88.30" r="1.5" fill="#7c1232"/>
<circle cx="501.70" cy="65.50" r="1.5" fill="#7c1232"/>
<circle cx="505.70" cy="19.70" r="1.5" fill="#7c1232"/>
<text x="3.30" y="234.50" font-size="11.2" text-anchor="start" fill="#000"  font-weight="bold">C</text>
<line x1="41.50" y1="452.50" x2="137.50" y2="260.50" stroke="#5d7fa5" stroke-width="0.9" />
<line x1="41.50" y1="452.50" x2="195.50" y2="298.50" stroke="#98d090" stroke-width="0.9" />
<line x1="41.50" y1="452.50" x2="234.80" y2="355.85" stroke="#e070a8" stroke-width="0.9" />
<line x1="41.50" y1="452.50" x2="234.80" y2="388.07" stroke="#7f6e8e" stroke-width="0.9" />
<line x1="41.50" y1="257.00" x2="41.50" y2="453.00" stroke="#2e2e2e" stroke-width="1.1" />
<line x1="38.60" y1="452.50" x2="41.50" y2="452.50" stroke="#2e2e2e" stroke-width="1.1" />
<text transform="translate(35.20,455.70) scale(0.92,1)" font-size="8.2" text-anchor="end" fill="#333" stroke="#333" stroke-width="0.07" letter-spacing="0.2">0</text>
<line x1="38.60" y1="424.87" x2="41.50" y2="424.87" stroke="#2e2e2e" stroke-width="1.1" />
<text transform="translate(35.20,428.06) scale(0.92,1)" font-size="8.2" text-anchor="end" fill="#333" stroke="#333" stroke-width="0.07" letter-spacing="0.2">500</text>
<line x1="38.60" y1="397.23" x2="41.50" y2="397.23" stroke="#2e2e2e" stroke-width="1.1" />
<text transform="translate(35.20,400.43) scale(0.92,1)" font-size="8.2" text-anchor="end" fill="#333" stroke="#333" stroke-width="0.07" letter-spacing="0.2">1000</text>
<line x1="38.60" y1="369.60" x2="41.50" y2="369.60" stroke="#2e2e2e" stroke-width="1.1" />
<text transform="translate(35.20,372.80) scale(0.92,1)" font-size="8.2" text-anchor="end" fill="#333" stroke="#333" stroke-width="0.07" letter-spacing="0.2">1500</text>
<line x1="38.60" y1="341.96" x2="41.50" y2="341.96" stroke="#2e2e2e" stroke-width="1.1" />
<text transform="translate(35.20,345.16) scale(0.92,1)" font-size="8.2" text-anchor="end" fill="#333" stroke="#333" stroke-width="0.07" letter-spacing="0.2">2000</text>
<line x1="38.60" y1="314.32" x2="41.50" y2="314.32" stroke="#2e2e2e" stroke-width="1.1" />
<text transform="translate(35.20,317.52) scale(0.92,1)" font-size="8.2" text-anchor="end" fill="#333" stroke="#333" stroke-width="0.07" letter-spacing="0.2">2500</text>
<line x1="38.60" y1="286.69" x2="41.50" y2="286.69" stroke="#2e2e2e" stroke-width="1.1" />
<text transform="translate(35.20,289.89) scale(0.92,1)" font-size="8.2" text-anchor="end" fill="#333" stroke="#333" stroke-width="0.07" letter-spacing="0.2">3000</text>
<line x1="38.60" y1="259.06" x2="41.50" y2="259.06" stroke="#2e2e2e" stroke-width="1.1" />
<text transform="translate(35.20,262.25) scale(0.92,1)" font-size="8.2" text-anchor="end" fill="#333" stroke="#333" stroke-width="0.07" letter-spacing="0.2">3500</text>
<line x1="41.00" y1="452.50" x2="237.00" y2="452.50" stroke="#2e2e2e" stroke-width="1.1" />
<line x1="41.50" y1="452.50" x2="41.50" y2="455.30" stroke="#2e2e2e" stroke-width="1.1" />
<text transform="translate(41.50,466.00) scale(0.92,1)" font-size="8.2" text-anchor="middle" fill="#333" stroke="#333" stroke-width="0.07" letter-spacing="0.2">0</text>
<line x1="69.10" y1="452.50" x2="69.10" y2="455.30" stroke="#2e2e2e" stroke-width="1.1" />
<text transform="translate(69.10,466.00) scale(0.92,1)" font-size="8.2" text-anchor="middle" fill="#333" stroke="#333" stroke-width="0.07" letter-spacing="0.2">500</text>
<line x1="96.70" y1="452.50" x2="96.70" y2="455.30" stroke="#2e2e2e" stroke-width="1.1" />
<text transform="translate(96.70,466.00) scale(0.92,1)" font-size="8.2" text-anchor="middle" fill="#333" stroke="#333" stroke-width="0.07" letter-spacing="0.2">1000</text>
<line x1="124.30" y1="452.50" x2="124.30" y2="455.30" stroke="#2e2e2e" stroke-width="1.1" />
<text transform="translate(124.30,466.00) scale(0.92,1)" font-size="8.2" text-anchor="middle" fill="#333" stroke="#333" stroke-width="0.07" letter-spacing="0.2">1500</text>
<line x1="151.90" y1="452.50" x2="151.90" y2="455.30" stroke="#2e2e2e" stroke-width="1.1" />
<text transform="translate(151.90,466.00) scale(0.92,1)" font-size="8.2" text-anchor="middle" fill="#333" stroke="#333" stroke-width="0.07" letter-spacing="0.2">2000</text>
<line x1="179.50" y1="452.50" x2="179.50" y2="455.30" stroke="#2e2e2e" stroke-width="1.1" />
<text transform="translate(179.50,466.00) scale(0.92,1)" font-size="8.2" text-anchor="middle" fill="#333" stroke="#333" stroke-width="0.07" letter-spacing="0.2">2500</text>
<line x1="207.10" y1="452.50" x2="207.10" y2="455.30" stroke="#2e2e2e" stroke-width="1.1" />
<text transform="translate(207.10,466.00) scale(0.92,1)" font-size="8.2" text-anchor="middle" fill="#333" stroke="#333" stroke-width="0.07" letter-spacing="0.2">3000</text>
<line x1="234.70" y1="452.50" x2="234.70" y2="455.30" stroke="#2e2e2e" stroke-width="1.1" />
<text transform="translate(234.70,466.00) scale(0.92,1)" font-size="8.2" text-anchor="middle" fill="#333" stroke="#333" stroke-width="0.07" letter-spacing="0.2">3500</text>
<g transform="translate(98.50,481.50)"><path transform="translate(0,-3.70) scale(0.980,0.974)" d="M4.9,0.3 C3.9,1.3 3.3,3.8 1.9,3.8 C0.7,3.8 0.1,2.9 0.1,1.9 C0.1,0.9 0.8,0 1.9,0 C3.2,0 3.8,2.7 5.0,3.8" fill="none" stroke="#222" stroke-width="0.87"/></g>
<text x="104.40" y="478.00" font-size="4.8" fill="#222" stroke="#222" stroke-width="0.1"  textLength="8.7" lengthAdjust="spacingAndGlyphs">DUP</text>
<text x="116" y="481.5" font-size="8" fill="#222" stroke="#222" stroke-width="0.32" textLength="64.2" lengthAdjust="spacingAndGlyphs">5′-variant (copies/µL)</text>
<g transform="translate(11.5,394) rotate(-90)"><path transform="translate(0,-3.90) scale(0.980,1.026)" d="M4.9,0.3 C3.9,1.3 3.3,3.8 1.9,3.8 C0.7,3.8 0.1,2.9 0.1,1.9 C0.1,0.9 0.8,0 1.9,0 C3.2,0 3.8,2.7 5.0,3.8" fill="none" stroke="#222" stroke-width="0.85"/><text x="7.6" y="-4.4" font-size="4.8" fill="#222" stroke="#222" stroke-width="0.1" textLength="5.6" lengthAdjust="spacingAndGlyphs">WT</text><text x="15.2" y="0" font-size="8" fill="#222" stroke="#222" stroke-width="0.32" textLength="62.8" lengthAdjust="spacingAndGlyphs">5′-variant (copies/µL)</text></g>
<circle cx="41.50" cy="271.10" r="2.25" fill="#ffffff" stroke="#222" stroke-width="0.85"/>
<circle cx="41.50" cy="289.00" r="2.25" fill="#ffffff" stroke="#222" stroke-width="0.85"/>
<circle cx="41.50" cy="310.30" r="2.25" fill="#ffffff" stroke="#222" stroke-width="0.85"/>
<circle cx="41.50" cy="323.20" r="2.25" fill="#ffffff" stroke="#222" stroke-width="0.85"/>
<circle cx="41.50" cy="326.30" r="2.25" fill="#ffffff" stroke="#222" stroke-width="0.85"/>
<circle cx="41.50" cy="333.50" r="2.25" fill="#ffffff" stroke="#222" stroke-width="0.85"/>
<circle cx="41.50" cy="335.50" r="2.25" fill="#ffffff" stroke="#222" stroke-width="0.85"/>
<circle cx="41.50" cy="345.60" r="2.25" fill="#ffffff" stroke="#222" stroke-width="0.85"/>
<circle cx="41.50" cy="348.70" r="2.25" fill="#ffffff" stroke="#222" stroke-width="0.85"/>
<circle cx="41.50" cy="354.90" r="2.25" fill="#ffffff" stroke="#222" stroke-width="0.85"/>
<circle cx="41.50" cy="357.90" r="2.25" fill="#ffffff" stroke="#222" stroke-width="0.85"/>
<circle cx="41.50" cy="365.80" r="2.25" fill="#ffffff" stroke="#222" stroke-width="0.85"/>
<circle cx="41.50" cy="367.20" r="2.25" fill="#ffffff" stroke="#222" stroke-width="0.85"/>
<circle cx="41.50" cy="372.80" r="2.25" fill="#ffffff" stroke="#222" stroke-width="0.85"/>
<circle cx="41.50" cy="375.30" r="2.25" fill="#ffffff" stroke="#222" stroke-width="0.85"/>
<circle cx="41.50" cy="383.90" r="2.25" fill="#ffffff" stroke="#222" stroke-width="0.85"/>
<circle cx="41.50" cy="389.50" r="2.25" fill="#ffffff" stroke="#222" stroke-width="0.85"/>
<circle cx="41.50" cy="393.20" r="2.25" fill="#ffffff" stroke="#222" stroke-width="0.85"/>
<circle cx="41.50" cy="396.85" r="2.25" fill="#ffffff" stroke="#222" stroke-width="0.85"/>
<circle cx="41.50" cy="400.50" r="2.25" fill="#ffffff" stroke="#222" stroke-width="0.85"/>
<circle cx="41.50" cy="404.15" r="2.25" fill="#ffffff" stroke="#222" stroke-width="0.85"/>
<circle cx="41.50" cy="407.80" r="2.25" fill="#ffffff" stroke="#222" stroke-width="0.85"/>
<circle cx="41.50" cy="411.45" r="2.25" fill="#ffffff" stroke="#222" stroke-width="0.85"/>
<circle cx="41.50" cy="415.10" r="2.25" fill="#ffffff" stroke="#222" stroke-width="0.85"/>
<circle cx="41.50" cy="418.75" r="2.25" fill="#ffffff" stroke="#222" stroke-width="0.85"/>
<circle cx="41.50" cy="422.40" r="2.25" fill="#ffffff" stroke="#222" stroke-width="0.85"/>
<circle cx="41.50" cy="426.05" r="2.25" fill="#ffffff" stroke="#222" stroke-width="0.85"/>
<circle cx="41.50" cy="429.70" r="2.25" fill="#ffffff" stroke="#222" stroke-width="0.85"/>
<circle cx="41.50" cy="433.35" r="2.25" fill="#ffffff" stroke="#222" stroke-width="0.85"/>
<circle cx="41.50" cy="437.00" r="2.25" fill="#ffffff" stroke="#222" stroke-width="0.85"/>
<circle cx="41.50" cy="440.65" r="2.25" fill="#ffffff" stroke="#222" stroke-width="0.85"/>
<circle cx="41.50" cy="444.30" r="2.25" fill="#ffffff" stroke="#222" stroke-width="0.85"/>
<circle cx="113.20" cy="318.50" r="2.25" fill="#1d4264" stroke="#151515" stroke-width="0.95"/>
<circle cx="87.40" cy="346.40" r="2.25" fill="#1d4264" stroke="#151515" stroke-width="0.95"/>
<circle cx="82.30" cy="369.10" r="2.25" fill="#1d4264" stroke="#151515" stroke-width="0.95"/>
<circle cx="83.60" cy="367.30" r="2.25" fill="#1d4264" stroke="#151515" stroke-width="0.95"/>
<circle cx="77.10" cy="376.90" r="2.25" fill="#1d4264" stroke="#151515" stroke-width="0.95"/>
<circle cx="85.80" cy="377.70" r="2.25" fill="#1d4264" stroke="#151515" stroke-width="0.95"/>
<circle cx="76.60" cy="385.70" r="2.25" fill="#1d4264" stroke="#151515" stroke-width="0.95"/>
<circle cx="76.40" cy="390.40" r="2.25" fill="#1d4264" stroke="#151515" stroke-width="0.95"/>
<circle cx="70.90" cy="393.00" r="2.25" fill="#1d4264" stroke="#151515" stroke-width="0.95"/>
<circle cx="82.50" cy="393.00" r="2.25" fill="#1d4264" stroke="#151515" stroke-width="0.95"/>
<circle cx="71.40" cy="397.10" r="2.25" fill="#1d4264" stroke="#151515" stroke-width="0.95"/>
<circle cx="65.60" cy="401.90" r="2.25" fill="#1d4264" stroke="#151515" stroke-width="0.95"/>
<circle cx="56.10" cy="422.20" r="2.25" fill="#1d4264" stroke="#151515" stroke-width="0.95"/>
<circle cx="57.60" cy="421.00" r="2.25" fill="#1d4264" stroke="#151515" stroke-width="0.95"/>
<circle cx="51.90" cy="429.50" r="2.25" fill="#1d4264" stroke="#151515" stroke-width="0.95"/>
<circle cx="82.30" cy="430.00" r="2.25" fill="#1d4264" stroke="#151515" stroke-width="0.95"/>
<circle cx="136.70" cy="397.10" r="2.25" fill="#1d4264" stroke="#151515" stroke-width="0.95"/>
<circle cx="119.60" cy="409.40" r="2.25" fill="#1d4264" stroke="#151515" stroke-width="0.95"/>
<circle cx="193.00" cy="367.20" r="2.25" fill="#1d4264" stroke="#151515" stroke-width="0.95"/>
<circle cx="159.20" cy="383.60" r="2.25" fill="#1d4264" stroke="#151515" stroke-width="0.95"/>
<circle cx="151.80" cy="390.20" r="2.25" fill="#1d4264" stroke="#151515" stroke-width="0.95"/>
<circle cx="143.60" cy="393.60" r="2.25" fill="#1d4264" stroke="#151515" stroke-width="0.95"/>
<circle cx="118.80" cy="452.00" r="2.25" fill="#1d4264" stroke="#151515" stroke-width="0.95"/>
<circle cx="125.40" cy="452.00" r="2.25" fill="#1d4264" stroke="#151515" stroke-width="0.95"/>
<circle cx="137.40" cy="452.00" r="2.25" fill="#1d4264" stroke="#151515" stroke-width="0.95"/>
<circle cx="139.60" cy="452.00" r="2.25" fill="#1d4264" stroke="#151515" stroke-width="0.95"/>
<circle cx="206.20" cy="452.00" r="2.25" fill="#1d4264" stroke="#151515" stroke-width="0.95"/>
<circle cx="208.00" cy="452.00" r="2.25" fill="#1d4264" stroke="#151515" stroke-width="0.95"/>
<circle cx="100.90" cy="423.80" r="2.25" fill="#36213f" stroke="#151515" stroke-width="0.95"/>
<circle cx="73.20" cy="437.40" r="2.25" fill="#36213f" stroke="#151515" stroke-width="0.95"/>
<circle cx="96.40" cy="434.00" r="2.25" fill="#36213f" stroke="#151515" stroke-width="0.95"/>
<circle cx="145.20" cy="394.80" r="2.25" fill="#36213f" stroke="#151515" stroke-width="0.95"/>
<circle cx="92.90" cy="436.30" r="2.25" fill="#7d6a88" stroke="#151515" stroke-width="0.95"/>
<circle cx="189.80" cy="402.10" r="2.25" fill="#7d6a88" stroke="#151515" stroke-width="0.95"/>
<circle cx="58.60" cy="442.40" r="2.25" fill="#c2145e" stroke="#151515" stroke-width="0.95"/>
<circle cx="66.50" cy="439.50" r="2.25" fill="#c2145e" stroke="#151515" stroke-width="0.95"/>
<circle cx="122.80" cy="404.10" r="2.25" fill="#c2145e" stroke="#151515" stroke-width="0.95"/>
<circle cx="141.90" cy="390.40" r="2.25" fill="#c2145e" stroke="#151515" stroke-width="0.95"/>
<circle cx="223.90" cy="362.30" r="2.25" fill="#c2145e" stroke="#151515" stroke-width="0.95"/>
<circle cx="110.30" cy="409.10" r="2.25" fill="#e8a2bd" stroke="#151515" stroke-width="0.95"/>
<circle cx="56.50" cy="443.60" r="2.25" fill="#e8a2bd" stroke="#151515" stroke-width="0.95"/>
<circle cx="53.60" cy="446.30" r="2.25" fill="#e8a2bd" stroke="#151515" stroke-width="0.95"/>
<circle cx="167.60" cy="381.10" r="2.25" fill="#e8a2bd" stroke="#151515" stroke-width="0.95"/>
<circle cx="163.90" cy="393.90" r="2.25" fill="#e8a2bd" stroke="#151515" stroke-width="0.95"/>
<circle cx="214.10" cy="376.60" r="2.25" fill="#e8a2bd" stroke="#151515" stroke-width="0.95"/>
<circle cx="134.40" cy="390.50" r="2.25" fill="#e99a3a" stroke="#151515" stroke-width="0.95"/>
<circle cx="104.60" cy="411.80" r="2.25" fill="#e99a3a" stroke="#151515" stroke-width="0.95"/>
<circle cx="87.60" cy="421.80" r="2.25" fill="#e99a3a" stroke="#151515" stroke-width="0.95"/>
<circle cx="199.50" cy="452.00" r="2.25" fill="#e99a3a" stroke="#151515" stroke-width="0.95"/>
<circle cx="91.00" cy="402.90" r="2.25" fill="#2aa8b0" stroke="#151515" stroke-width="0.95"/>
<circle cx="88.40" cy="405.00" r="2.25" fill="#2aa8b0" stroke="#151515" stroke-width="0.95"/>
<circle cx="86.20" cy="406.70" r="2.25" fill="#2aa8b0" stroke="#151515" stroke-width="0.95"/>
<circle cx="84.10" cy="408.70" r="2.25" fill="#2aa8b0" stroke="#151515" stroke-width="0.95"/>
<circle cx="82.00" cy="410.80" r="2.25" fill="#2aa8b0" stroke="#151515" stroke-width="0.95"/>
<circle cx="60.90" cy="430.40" r="2.25" fill="#2aa8b0" stroke="#151515" stroke-width="0.95"/>
<circle cx="59.80" cy="432.50" r="2.25" fill="#2aa8b0" stroke="#151515" stroke-width="0.95"/>
<circle cx="58.20" cy="434.60" r="2.25" fill="#2aa8b0" stroke="#151515" stroke-width="0.95"/>
<circle cx="50.30" cy="443.10" r="2.25" fill="#2aa8b0" stroke="#151515" stroke-width="0.95"/>
<circle cx="121.30" cy="374.80" r="2.25" fill="#2aa8b0" stroke="#151515" stroke-width="0.95"/>
<circle cx="115.60" cy="378.90" r="2.25" fill="#2aa8b0" stroke="#151515" stroke-width="0.95"/>
<circle cx="183.80" cy="452.00" r="2.25" fill="#2aa8b0" stroke="#151515" stroke-width="0.95"/>
<circle cx="124.90" cy="362.40" r="2.25" fill="#3aa2c8" stroke="#151515" stroke-width="0.95"/>
<circle cx="134.20" cy="368.20" r="2.25" fill="#3aa2c8" stroke="#151515" stroke-width="0.95"/>
<circle cx="130.10" cy="369.40" r="2.25" fill="#3aa2c8" stroke="#151515" stroke-width="0.95"/>
<circle cx="129.50" cy="373.00" r="2.25" fill="#3aa2c8" stroke="#151515" stroke-width="0.95"/>
<circle cx="126.40" cy="376.10" r="2.25" fill="#3aa2c8" stroke="#151515" stroke-width="0.95"/>
<circle cx="121.30" cy="374.80" r="2.25" fill="#3aa2c8" stroke="#151515" stroke-width="0.95"/>
<circle cx="115.60" cy="378.90" r="2.25" fill="#3aa2c8" stroke="#151515" stroke-width="0.95"/>
<circle cx="117.50" cy="383.40" r="2.25" fill="#3aa2c8" stroke="#151515" stroke-width="0.95"/>
<circle cx="117.20" cy="390.60" r="2.25" fill="#3aa2c8" stroke="#151515" stroke-width="0.95"/>
<circle cx="98.90" cy="443.70" r="2.25" fill="#3aa2c8" stroke="#151515" stroke-width="0.95"/>
<circle cx="98.50" cy="448.20" r="2.25" fill="#3aa2c8" stroke="#151515" stroke-width="0.95"/>
<circle cx="95.10" cy="451.30" r="2.25" fill="#3aa2c8" stroke="#151515" stroke-width="0.95"/>
<circle cx="136.10" cy="442.30" r="2.25" fill="#3aa2c8" stroke="#151515" stroke-width="0.95"/>
<circle cx="116.00" cy="451.60" r="2.25" fill="#3aa2c8" stroke="#151515" stroke-width="0.95"/>
<circle cx="142.40" cy="452.00" r="2.25" fill="#3aa2c8" stroke="#151515" stroke-width="0.95"/>
<circle cx="154.90" cy="452.00" r="2.25" fill="#3aa2c8" stroke="#151515" stroke-width="0.95"/>
<circle cx="162.60" cy="452.00" r="2.25" fill="#3aa2c8" stroke="#151515" stroke-width="0.95"/>
<circle cx="183.80" cy="452.00" r="2.25" fill="#3aa2c8" stroke="#151515" stroke-width="0.95"/>
<circle cx="193.00" cy="452.00" r="2.25" fill="#3aa2c8" stroke="#151515" stroke-width="0.95"/>
<circle cx="79.40" cy="413.50" r="2.25" fill="#3c9c4e" stroke="#151515" stroke-width="0.95"/>
<circle cx="76.70" cy="414.20" r="2.25" fill="#3c9c4e" stroke="#151515" stroke-width="0.95"/>
<circle cx="81.50" cy="415.60" r="2.25" fill="#3c9c4e" stroke="#151515" stroke-width="0.95"/>
<circle cx="76.70" cy="416.70" r="2.25" fill="#3c9c4e" stroke="#151515" stroke-width="0.95"/>
<circle cx="73.60" cy="419.30" r="2.25" fill="#3c9c4e" stroke="#151515" stroke-width="0.95"/>
<circle cx="72.00" cy="420.90" r="2.25" fill="#3c9c4e" stroke="#151515" stroke-width="0.95"/>
<circle cx="69.90" cy="423.00" r="2.25" fill="#3c9c4e" stroke="#151515" stroke-width="0.95"/>
<circle cx="65.60" cy="428.30" r="2.25" fill="#3c9c4e" stroke="#151515" stroke-width="0.95"/>
<circle cx="64.00" cy="429.90" r="2.25" fill="#3c9c4e" stroke="#151515" stroke-width="0.95"/>
<circle cx="62.50" cy="431.50" r="2.25" fill="#3c9c4e" stroke="#151515" stroke-width="0.95"/>
<circle cx="56.10" cy="436.80" r="2.25" fill="#3c9c4e" stroke="#151515" stroke-width="0.95"/>
<circle cx="55.00" cy="438.40" r="2.25" fill="#3c9c4e" stroke="#151515" stroke-width="0.95"/>
<circle cx="107.30" cy="390.20" r="2.25" fill="#3c9c4e" stroke="#151515" stroke-width="0.95"/>
<circle cx="109.00" cy="390.50" r="2.25" fill="#3c9c4e" stroke="#151515" stroke-width="0.95"/>
<circle cx="118.70" cy="370.30" r="2.25" fill="#3c9c4e" stroke="#151515" stroke-width="0.95"/>
<circle cx="123.40" cy="378.50" r="2.25" fill="#3c9c4e" stroke="#151515" stroke-width="0.95"/>
<circle cx="141.90" cy="337.00" r="2.25" fill="#3c9c4e" stroke="#151515" stroke-width="0.95"/>
<circle cx="142.40" cy="344.50" r="2.25" fill="#3c9c4e" stroke="#151515" stroke-width="0.95"/>
<circle cx="165.10" cy="332.70" r="2.25" fill="#3c9c4e" stroke="#151515" stroke-width="0.95"/>
<circle cx="173.60" cy="316.20" r="2.25" fill="#3c9c4e" stroke="#151515" stroke-width="0.95"/>
<circle cx="172.60" cy="318.70" r="2.25" fill="#3c9c4e" stroke="#151515" stroke-width="0.95"/>
<g transform="translate(203.30,239.60)"><path transform="translate(0,-3.80) scale(1.020,1.000)" d="M4.9,0.3 C3.9,1.3 3.3,3.8 1.9,3.8 C0.7,3.8 0.1,2.9 0.1,1.9 C0.1,0.9 0.8,0 1.9,0 C3.2,0 3.8,2.7 5.0,3.8" fill="none" stroke="#333" stroke-width="0.84"/></g>
<text x="209.40" y="236.90" font-size="4.8" fill="#333" stroke="#333" stroke-width="0.1"  textLength="10.0" lengthAdjust="spacingAndGlyphs">DUP</text>
<text x="220.6" y="239.6" font-size="8" fill="#333">:</text>
<g transform="translate(225.40,239.60)"><path transform="translate(0,-3.80) scale(1.020,1.000)" d="M4.9,0.3 C3.9,1.3 3.3,3.8 1.9,3.8 C0.7,3.8 0.1,2.9 0.1,1.9 C0.1,0.9 0.8,0 1.9,0 C3.2,0 3.8,2.7 5.0,3.8" fill="none" stroke="#333" stroke-width="0.84"/></g>
<text x="231.60" y="236.90" font-size="4.8" fill="#333" stroke="#333" stroke-width="0.1"  textLength="6.1" lengthAdjust="spacingAndGlyphs">WT</text>
<circle cx="210.90" cy="249.20" r="2.2" fill="#36213f" stroke="#222" stroke-width="0.8"/>
<text x="219.70" y="251.70" font-size="7" text-anchor="start" fill="#3a3a3a" stroke="#3a3a3a" stroke-width="0.07" letter-spacing="0.5">6:2</text>
<circle cx="210.90" cy="259.90" r="2.2" fill="#c2145e" stroke="#222" stroke-width="0.8"/>
<text x="219.70" y="262.40" font-size="7" text-anchor="start" fill="#3a3a3a" stroke="#3a3a3a" stroke-width="0.07" letter-spacing="0.5">4:2</text>
<circle cx="210.90" cy="270.60" r="2.2" fill="#7d6a88" stroke="#222" stroke-width="0.8"/>
<text x="219.70" y="273.10" font-size="7" text-anchor="start" fill="#3a3a3a" stroke="#3a3a3a" stroke-width="0.07" letter-spacing="0.5">3:1</text>
<circle cx="210.90" cy="281.30" r="2.2" fill="#e99a3a" stroke="#222" stroke-width="0.8"/>
<text x="219.70" y="283.80" font-size="7" text-anchor="start" fill="#3a3a3a" stroke="#3a3a3a" stroke-width="0.07" letter-spacing="0.5">3:2</text>
<circle cx="210.90" cy="292.00" r="2.2" fill="#3c9c4e" stroke="#222" stroke-width="0.8"/>
<text x="219.70" y="294.50" font-size="7" text-anchor="start" fill="#3a3a3a" stroke="#3a3a3a" stroke-width="0.07" letter-spacing="0.5">2:2</text>
<circle cx="210.90" cy="302.70" r="2.2" fill="#e8a2bd" stroke="#222" stroke-width="0.8"/>
<text x="219.70" y="305.20" font-size="7" text-anchor="start" fill="#3a3a3a" stroke="#3a3a3a" stroke-width="0.07" letter-spacing="0.5">2:1</text>
<circle cx="210.90" cy="313.40" r="2.2" fill="#1d4264" stroke="#222" stroke-width="0.8"/>
<text x="219.70" y="315.90" font-size="7" text-anchor="start" fill="#3a3a3a" stroke="#3a3a3a" stroke-width="0.07" letter-spacing="0.5">1:2</text>
<circle cx="210.90" cy="324.10" r="2.2" fill="#3aa2c8" stroke="#222" stroke-width="0.8"/>
<text x="219.70" y="326.60" font-size="7" text-anchor="start" fill="#3a3a3a" stroke="#3a3a3a" stroke-width="0.07" letter-spacing="0.5">1:1</text>
<circle cx="210.90" cy="334.80" r="2.2" fill="#ffffff" stroke="#222" stroke-width="0.8"/>
<text x="219.70" y="337.30" font-size="7" text-anchor="start" fill="#3a3a3a" stroke="#3a3a3a" stroke-width="0.07" letter-spacing="0.5">0:2</text>
<circle cx="210.90" cy="345.50" r="2.2" fill="#ffffff" stroke="#222" stroke-width="0.8"/>
<text x="219.70" y="348.00" font-size="7" text-anchor="start" fill="#3a3a3a" stroke="#3a3a3a" stroke-width="0.07" letter-spacing="0.5">0:1</text>
<text x="280.30" y="234.10" font-size="10.8" text-anchor="start" fill="#000"  font-weight="bold">D</text>
<line x1="309.50" y1="425.06" x2="513.00" y2="425.06" stroke="#9aa0c0" stroke-width="1.0" />
<line x1="309.50" y1="398.32" x2="513.00" y2="398.32" stroke="#98cc98" stroke-width="1.0" />
<line x1="309.50" y1="371.58" x2="513.00" y2="371.58" stroke="#eccb90" stroke-width="1.0" />
<line x1="309.50" y1="344.84" x2="513.00" y2="344.84" stroke="#dc5c9c" stroke-width="1.0" />
<line x1="309.50" y1="291.36" x2="513.00" y2="291.36" stroke="#9a94ac" stroke-width="1.0" />
<line x1="309.80" y1="264.40" x2="309.80" y2="452.00" stroke="#2e2e2e" stroke-width="1.3" />
<line x1="306.80" y1="264.60" x2="312.00" y2="264.60" stroke="#2e2e2e" stroke-width="1.1" />
<line x1="306.80" y1="451.60" x2="514.00" y2="451.60" stroke="#2e2e2e" stroke-width="1.1" />
<line x1="306.80" y1="451.80" x2="309.50" y2="451.80" stroke="#2e2e2e" stroke-width="1.1" />
<text transform="translate(304.20,454.60) scale(0.92,1)" font-size="8.2" text-anchor="end" fill="#333" stroke="#333" stroke-width="0.07" letter-spacing="0.1">0</text>
<line x1="306.80" y1="425.06" x2="309.50" y2="425.06" stroke="#2e2e2e" stroke-width="1.1" />
<text transform="translate(304.20,427.86) scale(0.92,1)" font-size="8.2" text-anchor="end" fill="#333" stroke="#333" stroke-width="0.07" letter-spacing="0.1">0.5</text>
<line x1="306.80" y1="398.32" x2="309.50" y2="398.32" stroke="#2e2e2e" stroke-width="1.1" />
<text transform="translate(304.20,401.12) scale(0.92,1)" font-size="8.2" text-anchor="end" fill="#333" stroke="#333" stroke-width="0.07" letter-spacing="0.1">1</text>
<line x1="306.80" y1="371.58" x2="309.50" y2="371.58" stroke="#2e2e2e" stroke-width="1.1" />
<text transform="translate(304.20,374.38) scale(0.92,1)" font-size="8.2" text-anchor="end" fill="#333" stroke="#333" stroke-width="0.07" letter-spacing="0.1">1.5</text>
<line x1="306.80" y1="344.84" x2="309.50" y2="344.84" stroke="#2e2e2e" stroke-width="1.1" />
<text transform="translate(304.20,347.64) scale(0.92,1)" font-size="8.2" text-anchor="end" fill="#333" stroke="#333" stroke-width="0.07" letter-spacing="0.1">2</text>
<line x1="306.80" y1="291.36" x2="309.50" y2="291.36" stroke="#2e2e2e" stroke-width="1.1" />
<text transform="translate(304.20,294.16) scale(0.92,1)" font-size="8.2" text-anchor="end" fill="#333" stroke="#333" stroke-width="0.07" letter-spacing="0.1">3</text>
<line x1="285.00" y1="257.70" x2="292.50" y2="257.70" stroke="#444" stroke-width="1.0" />
<path d="M291.6,255.8 L296,257.7 L291.6,259.6 Z" fill="#111"/>
<ellipse cx="301.7" cy="257.7" rx="1.65" ry="1.85" fill="none" stroke="#333" stroke-width="0.9"/>
<ellipse cx="305.1" cy="257.7" rx="1.65" ry="1.85" fill="none" stroke="#333" stroke-width="0.9"/>
<line x1="323.00" y1="451.60" x2="323.00" y2="454.30" stroke="#2e2e2e" stroke-width="1.1" />
<text transform="translate(323.00,464.50) scale(0.92,1)" font-size="8.2" text-anchor="middle" fill="#333" stroke="#333" stroke-width="0.07" letter-spacing="0.2">0:1</text>
<line x1="342.75" y1="451.60" x2="342.75" y2="454.30" stroke="#2e2e2e" stroke-width="1.1" />
<text transform="translate(342.75,464.50) scale(0.92,1)" font-size="8.2" text-anchor="middle" fill="#333" stroke="#333" stroke-width="0.07" letter-spacing="0.2">0:2</text>
<line x1="362.50" y1="451.60" x2="362.50" y2="454.30" stroke="#2e2e2e" stroke-width="1.1" />
<text transform="translate(362.50,464.50) scale(0.92,1)" font-size="8.2" text-anchor="middle" fill="#333" stroke="#333" stroke-width="0.07" letter-spacing="0.2">1:2</text>
<line x1="382.25" y1="451.60" x2="382.25" y2="454.30" stroke="#2e2e2e" stroke-width="1.1" />
<text transform="translate(382.25,464.50) scale(0.92,1)" font-size="8.2" text-anchor="middle" fill="#333" stroke="#333" stroke-width="0.07" letter-spacing="0.2">1:1</text>
<line x1="402.00" y1="451.60" x2="402.00" y2="454.30" stroke="#2e2e2e" stroke-width="1.1" />
<text transform="translate(402.00,464.50) scale(0.92,1)" font-size="8.2" text-anchor="middle" fill="#333" stroke="#333" stroke-width="0.07" letter-spacing="0.2">2:2</text>
<line x1="421.75" y1="451.60" x2="421.75" y2="454.30" stroke="#2e2e2e" stroke-width="1.1" />
<text transform="translate(421.75,464.50) scale(0.92,1)" font-size="8.2" text-anchor="middle" fill="#333" stroke="#333" stroke-width="0.07" letter-spacing="0.2">3:2</text>
<line x1="441.50" y1="451.60" x2="441.50" y2="454.30" stroke="#2e2e2e" stroke-width="1.1" />
<text transform="translate(441.50,464.50) scale(0.92,1)" font-size="8.2" text-anchor="middle" fill="#333" stroke="#333" stroke-width="0.07" letter-spacing="0.2">2:1</text>
<line x1="461.25" y1="451.60" x2="461.25" y2="454.30" stroke="#2e2e2e" stroke-width="1.1" />
<text transform="translate(461.25,464.50) scale(0.92,1)" font-size="8.2" text-anchor="middle" fill="#333" stroke="#333" stroke-width="0.07" letter-spacing="0.2">4:2</text>
<line x1="481.00" y1="451.60" x2="481.00" y2="454.30" stroke="#2e2e2e" stroke-width="1.1" />
<text transform="translate(481.00,464.50) scale(0.92,1)" font-size="8.2" text-anchor="middle" fill="#333" stroke="#333" stroke-width="0.07" letter-spacing="0.2">3:1</text>
<line x1="500.75" y1="451.60" x2="500.75" y2="454.30" stroke="#2e2e2e" stroke-width="1.1" />
<text transform="translate(500.75,464.50) scale(0.92,1)" font-size="8.2" text-anchor="middle" fill="#333" stroke="#333" stroke-width="0.07" letter-spacing="0.2">6:2</text>
<text x="357.9" y="480.6" font-size="8.2" font-style="italic" fill="#222" stroke="#222" stroke-width="0.32" textLength="21.6" lengthAdjust="spacingAndGlyphs">TPSAB1</text>
<text x="382.2" y="480.6" font-size="8.2" fill="#222" stroke="#222" stroke-width="0.32" textLength="45.3" lengthAdjust="spacingAndGlyphs">genotype ratio (</text>
<g transform="translate(428.70,480.60)"><path transform="translate(0,-3.70) scale(0.960,0.974)" d="M4.9,0.3 C3.9,1.3 3.3,3.8 1.9,3.8 C0.7,3.8 0.1,2.9 0.1,1.9 C0.1,0.9 0.8,0 1.9,0 C3.2,0 3.8,2.7 5.0,3.8" fill="none" stroke="#222" stroke-width="0.88"/></g>
<text x="434.80" y="477.60" font-size="4.8" fill="#222" stroke="#222" stroke-width="0.1" font-weight="bold" textLength="9.4" lengthAdjust="spacingAndGlyphs">DUP</text>
<text x="447" y="480.6" font-size="8.2" fill="#222">:</text>
<g transform="translate(451.60,480.60)"><path transform="translate(0,-3.70) scale(0.920,0.974)" d="M4.9,0.3 C3.9,1.3 3.3,3.8 1.9,3.8 C0.7,3.8 0.1,2.9 0.1,1.9 C0.1,0.9 0.8,0 1.9,0 C3.2,0 3.8,2.7 5.0,3.8" fill="none" stroke="#222" stroke-width="0.90"/></g>
<text x="457.40" y="477.60" font-size="4.8" fill="#222" stroke="#222" stroke-width="0.1" font-weight="bold" textLength="6.6" lengthAdjust="spacingAndGlyphs">WT</text>
<text x="465.2" y="480.6" font-size="8.2" fill="#222" stroke="#222" stroke-width="0.32">)</text>
<g transform="translate(287.3,410.9) rotate(-90)"><text x="0" y="0" font-size="8.2" fill="#222" stroke="#222" stroke-width="0.32">[</text><g transform="translate(2.5,0)"><path transform="translate(0,-3.80) scale(0.960,1.000)" d="M4.9,0.3 C3.9,1.3 3.3,3.8 1.9,3.8 C0.7,3.8 0.1,2.9 0.1,1.9 C0.1,0.9 0.8,0 1.9,0 C3.2,0 3.8,2.7 5.0,3.8" fill="none" stroke="#222" stroke-width="0.87"/></g><text x="8.6" y="-3.3" font-size="5" font-weight="bold" fill="#222" textLength="8.4" lengthAdjust="spacingAndGlyphs">DUP</text><text x="18.6" y="0" font-size="8.2" fill="#222" stroke="#222" stroke-width="0.32" textLength="41.8" lengthAdjust="spacingAndGlyphs">5′-variant] / [</text><g transform="translate(61.2,0)"><path transform="translate(0,-3.80) scale(0.920,1.000)" d="M4.9,0.3 C3.9,1.3 3.3,3.8 1.9,3.8 C0.7,3.8 0.1,2.9 0.1,1.9 C0.1,0.9 0.8,0 1.9,0 C3.2,0 3.8,2.7 5.0,3.8" fill="none" stroke="#222" stroke-width="0.89"/></g><text x="66.8" y="-4.2" font-size="5" font-weight="bold" fill="#222" textLength="6" lengthAdjust="spacingAndGlyphs">WT</text><text x="74.2" y="0" font-size="8.2" fill="#222" stroke="#222" stroke-width="0.32" textLength="31.9" lengthAdjust="spacingAndGlyphs">5′-variant]</text></g>
<circle cx="318.50" cy="451.60" r="2.25" fill="#ffffff" stroke="#151515" stroke-width="0.95"/>
<circle cx="321.00" cy="451.60" r="2.25" fill="#ffffff" stroke="#151515" stroke-width="0.95"/>
<circle cx="323.50" cy="451.60" r="2.25" fill="#ffffff" stroke="#151515" stroke-width="0.95"/>
<circle cx="326.00" cy="451.60" r="2.25" fill="#ffffff" stroke="#151515" stroke-width="0.95"/>
<circle cx="327.80" cy="451.60" r="2.25" fill="#ffffff" stroke="#151515" stroke-width="0.95"/>
<circle cx="338.30" cy="451.60" r="2.25" fill="#ffffff" stroke="#151515" stroke-width="0.95"/>
<circle cx="340.80" cy="451.60" r="2.25" fill="#ffffff" stroke="#151515" stroke-width="0.95"/>
<circle cx="343.30" cy="451.60" r="2.25" fill="#ffffff" stroke="#151515" stroke-width="0.95"/>
<circle cx="345.50" cy="451.60" r="2.25" fill="#ffffff" stroke="#151515" stroke-width="0.95"/>
<circle cx="346.90" cy="451.60" r="2.25" fill="#ffffff" stroke="#151515" stroke-width="0.95"/>
<circle cx="359.60" cy="257.50" r="2.25" fill="#1d4264" stroke="#151515" stroke-width="0.95"/>
<circle cx="361.60" cy="257.50" r="2.25" fill="#1d4264" stroke="#151515" stroke-width="0.95"/>
<circle cx="363.60" cy="257.50" r="2.25" fill="#1d4264" stroke="#151515" stroke-width="0.95"/>
<circle cx="365.60" cy="257.50" r="2.25" fill="#1d4264" stroke="#151515" stroke-width="0.95"/>
<circle cx="378.80" cy="257.50" r="2.25" fill="#1d4264" stroke="#151515" stroke-width="0.95"/>
<circle cx="385.20" cy="257.50" r="2.25" fill="#1d4264" stroke="#151515" stroke-width="0.95"/>
<circle cx="358.80" cy="340.00" r="2.25" fill="#1d4264" stroke="#151515" stroke-width="0.95"/>
<circle cx="366.00" cy="341.90" r="2.25" fill="#1d4264" stroke="#151515" stroke-width="0.95"/>
<circle cx="358.40" cy="353.50" r="2.25" fill="#1d4264" stroke="#151515" stroke-width="0.95"/>
<circle cx="366.20" cy="353.50" r="2.25" fill="#1d4264" stroke="#151515" stroke-width="0.95"/>
<circle cx="357.80" cy="356.00" r="2.25" fill="#1d4264" stroke="#151515" stroke-width="0.95"/>
<circle cx="366.80" cy="356.00" r="2.25" fill="#1d4264" stroke="#151515" stroke-width="0.95"/>
<circle cx="359.40" cy="358.50" r="2.25" fill="#1d4264" stroke="#151515" stroke-width="0.95"/>
<circle cx="365.20" cy="358.50" r="2.25" fill="#1d4264" stroke="#151515" stroke-width="0.95"/>
<circle cx="360.60" cy="360.60" r="2.25" fill="#1d4264" stroke="#151515" stroke-width="0.95"/>
<circle cx="364.00" cy="360.60" r="2.25" fill="#1d4264" stroke="#151515" stroke-width="0.95"/>
<circle cx="362.30" cy="361.60" r="2.25" fill="#1d4264" stroke="#151515" stroke-width="0.95"/>
<circle cx="360.20" cy="355.50" r="2.25" fill="#1d4264" stroke="#151515" stroke-width="0.95"/>
<circle cx="364.40" cy="355.50" r="2.25" fill="#1d4264" stroke="#151515" stroke-width="0.95"/>
<circle cx="359.40" cy="414.40" r="2.25" fill="#1d4264" stroke="#151515" stroke-width="0.95"/>
<circle cx="365.60" cy="414.40" r="2.25" fill="#1d4264" stroke="#151515" stroke-width="0.95"/>
<circle cx="362.50" cy="417.50" r="2.25" fill="#1d4264" stroke="#151515" stroke-width="0.95"/>
<circle cx="359.40" cy="420.50" r="2.25" fill="#1d4264" stroke="#151515" stroke-width="0.95"/>
<circle cx="365.60" cy="420.50" r="2.25" fill="#1d4264" stroke="#151515" stroke-width="0.95"/>
<circle cx="362.50" cy="423.00" r="2.25" fill="#1d4264" stroke="#151515" stroke-width="0.95"/>
<circle cx="359.80" cy="424.50" r="2.25" fill="#1d4264" stroke="#151515" stroke-width="0.95"/>
<circle cx="365.20" cy="424.50" r="2.25" fill="#1d4264" stroke="#151515" stroke-width="0.95"/>
<circle cx="362.50" cy="426.50" r="2.25" fill="#1d4264" stroke="#151515" stroke-width="0.95"/>
<circle cx="362.50" cy="429.30" r="2.25" fill="#1d4264" stroke="#151515" stroke-width="0.95"/>
<circle cx="382.30" cy="400.60" r="2.25" fill="#1d4264" stroke="#151515" stroke-width="0.95"/>
<circle cx="382.30" cy="403.60" r="2.25" fill="#1d4264" stroke="#151515" stroke-width="0.95"/>
<circle cx="379.80" cy="399.00" r="2.25" fill="#1d4264" stroke="#151515" stroke-width="0.95"/>
<circle cx="384.80" cy="399.00" r="2.25" fill="#1d4264" stroke="#151515" stroke-width="0.95"/>
<circle cx="381.20" cy="257.50" r="2.25" fill="#3aa2c8" stroke="#151515" stroke-width="0.95"/>
<circle cx="383.40" cy="257.50" r="2.25" fill="#3aa2c8" stroke="#151515" stroke-width="0.95"/>
<circle cx="379.00" cy="386.30" r="2.25" fill="#3aa2c8" stroke="#151515" stroke-width="0.95"/>
<circle cx="385.60" cy="386.30" r="2.25" fill="#3aa2c8" stroke="#151515" stroke-width="0.95"/>
<circle cx="379.00" cy="391.60" r="2.25" fill="#3aa2c8" stroke="#151515" stroke-width="0.95"/>
<circle cx="385.60" cy="391.60" r="2.25" fill="#3aa2c8" stroke="#151515" stroke-width="0.95"/>
<circle cx="382.30" cy="392.20" r="2.25" fill="#3aa2c8" stroke="#151515" stroke-width="0.95"/>
<circle cx="379.40" cy="396.00" r="2.25" fill="#3aa2c8" stroke="#151515" stroke-width="0.95"/>
<circle cx="385.20" cy="396.00" r="2.25" fill="#3aa2c8" stroke="#151515" stroke-width="0.95"/>
<circle cx="382.30" cy="394.00" r="2.25" fill="#3aa2c8" stroke="#151515" stroke-width="0.95"/>
<circle cx="398.20" cy="392.70" r="2.25" fill="#285a30" stroke="#151515" stroke-width="0.95"/>
<circle cx="406.00" cy="393.50" r="2.25" fill="#285a30" stroke="#151515" stroke-width="0.95"/>
<circle cx="402.20" cy="395.50" r="2.25" fill="#285a30" stroke="#151515" stroke-width="0.95"/>
<circle cx="399.00" cy="396.00" r="2.25" fill="#285a30" stroke="#151515" stroke-width="0.95"/>
<circle cx="405.30" cy="396.50" r="2.25" fill="#285a30" stroke="#151515" stroke-width="0.95"/>
<circle cx="398.50" cy="398.60" r="2.25" fill="#285a30" stroke="#151515" stroke-width="0.95"/>
<circle cx="405.60" cy="398.80" r="2.25" fill="#285a30" stroke="#151515" stroke-width="0.95"/>
<circle cx="401.00" cy="398.30" r="2.25" fill="#285a30" stroke="#151515" stroke-width="0.95"/>
<circle cx="403.60" cy="398.20" r="2.25" fill="#285a30" stroke="#151515" stroke-width="0.95"/>
<circle cx="400.00" cy="400.30" r="2.25" fill="#285a30" stroke="#151515" stroke-width="0.95"/>
<circle cx="404.50" cy="400.60" r="2.25" fill="#285a30" stroke="#151515" stroke-width="0.95"/>
<circle cx="402.20" cy="401.80" r="2.25" fill="#3c9c4e" stroke="#151515" stroke-width="0.95"/>
<circle cx="402.00" cy="405.30" r="2.25" fill="#3c9c4e" stroke="#151515" stroke-width="0.95"/>
<circle cx="422.10" cy="257.30" r="2.25" fill="#e99a3a" stroke="#151515" stroke-width="0.95"/>
<circle cx="418.70" cy="368.30" r="2.25" fill="#e99a3a" stroke="#151515" stroke-width="0.95"/>
<circle cx="422.10" cy="371.40" r="2.25" fill="#e99a3a" stroke="#151515" stroke-width="0.95"/>
<circle cx="425.10" cy="371.40" r="2.25" fill="#e99a3a" stroke="#151515" stroke-width="0.95"/>
<circle cx="441.60" cy="330.10" r="2.25" fill="#e8a2bd" stroke="#151515" stroke-width="0.95"/>
<circle cx="438.30" cy="339.10" r="2.25" fill="#e8a2bd" stroke="#151515" stroke-width="0.95"/>
<circle cx="445.00" cy="337.80" r="2.25" fill="#e8a2bd" stroke="#151515" stroke-width="0.95"/>
<circle cx="438.30" cy="357.00" r="2.25" fill="#e8a2bd" stroke="#151515" stroke-width="0.95"/>
<circle cx="444.70" cy="360.30" r="2.25" fill="#e8a2bd" stroke="#151515" stroke-width="0.95"/>
<circle cx="448.40" cy="359.70" r="2.25" fill="#e8a2bd" stroke="#151515" stroke-width="0.95"/>
<circle cx="438.30" cy="367.40" r="2.25" fill="#e8a2bd" stroke="#151515" stroke-width="0.95"/>
<circle cx="461.20" cy="257.30" r="2.25" fill="#c2145e" stroke="#151515" stroke-width="0.95"/>
<circle cx="458.20" cy="343.60" r="2.25" fill="#c2145e" stroke="#151515" stroke-width="0.95"/>
<circle cx="464.50" cy="347.90" r="2.25" fill="#c2145e" stroke="#151515" stroke-width="0.95"/>
<circle cx="464.50" cy="361.30" r="2.25" fill="#c2145e" stroke="#151515" stroke-width="0.95"/>
<circle cx="458.20" cy="365.10" r="2.25" fill="#c2145e" stroke="#151515" stroke-width="0.95"/>
<circle cx="481.30" cy="282.70" r="2.25" fill="#7d6a88" stroke="#151515" stroke-width="0.95"/>
<circle cx="481.30" cy="294.10" r="2.25" fill="#7d6a88" stroke="#151515" stroke-width="0.95"/>
<circle cx="501.00" cy="295.30" r="2.25" fill="#36213f" stroke="#151515" stroke-width="0.95"/>
</svg></body></html>
